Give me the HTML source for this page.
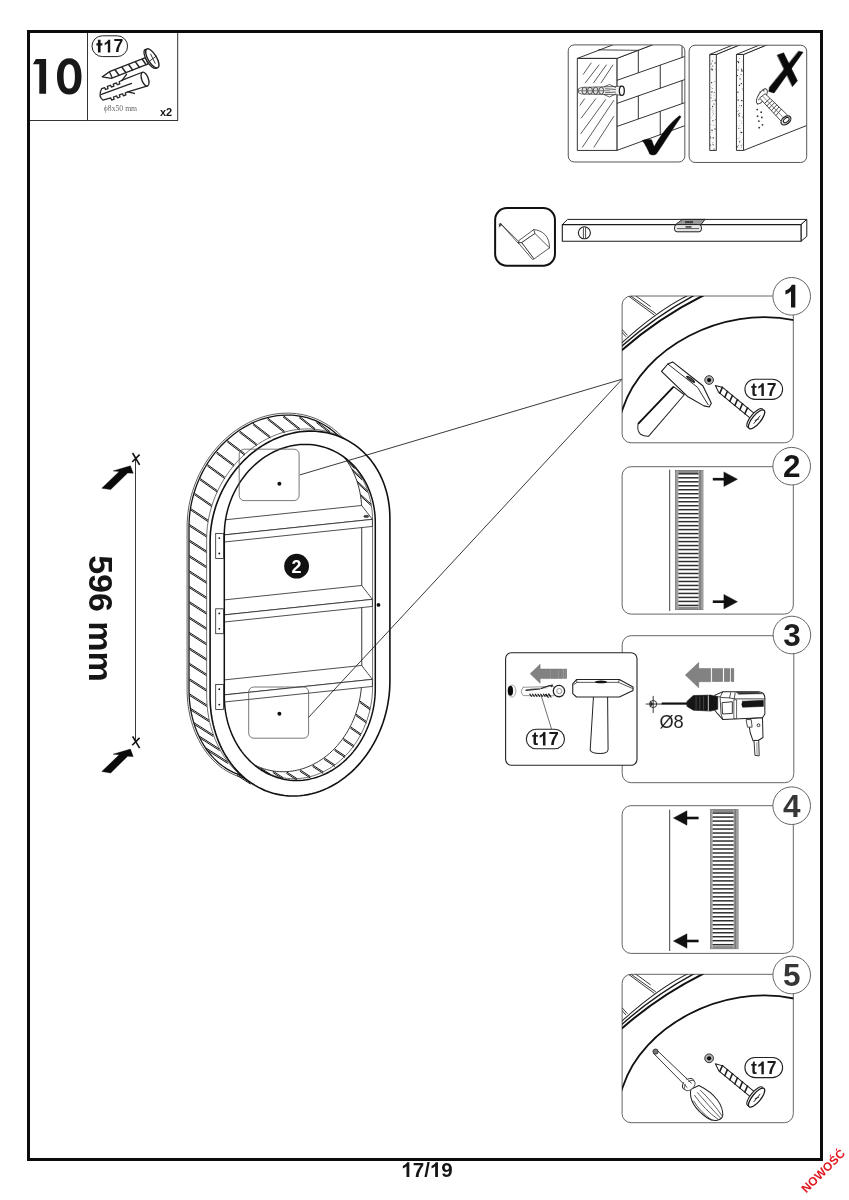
<!DOCTYPE html>
<html><head><meta charset="utf-8"><title>17/19</title>
<style>
html,body{margin:0;padding:0;background:#fff;}
body{width:849px;height:1200px;overflow:hidden;font-family:"Liberation Sans", sans-serif;}
svg{display:block;font-family:"Liberation Sans", sans-serif;will-change:transform;}
</style></head>
<body>
<svg width="849" height="1200" viewBox="0 0 849 1200">
<rect x="0" y="0" width="849" height="1200" fill="#fff"/>
<rect x="28.5" y="31.5" width="793" height="1128" fill="none" stroke="#0c0c0c" stroke-width="3"/>
<path d="M806 0H525V1059Q371 915 162 846V1101Q272 1137 401 1237.5Q530 1338 578 1472H806Z" fill="#161616" transform="translate(401.22 1177) scale(0.01006 -0.01006)"/><text x="412.68" y="1177" font-size="20.6" font-weight="bold" fill="#161616">7</text><text x="424.14" y="1177" font-size="20.6" font-weight="bold" fill="#161616">/</text><path d="M806 0H525V1059Q371 915 162 846V1101Q272 1137 401 1237.5Q530 1338 578 1472H806Z" fill="#161616" transform="translate(429.86 1177) scale(0.01006 -0.01006)"/><text x="441.32" y="1177" font-size="20.6" font-weight="bold" fill="#161616">9</text>
<text transform="translate(806.3 1193.6) rotate(-45)" font-size="11.9" font-weight="bold" fill="#e3171f" letter-spacing="0.2">NOWOŚĆ</text>
<line x1="30" y1="120.5" x2="178" y2="120.5" stroke="#333" stroke-width="1" />
<line x1="87.5" y1="33" x2="87.5" y2="120.5" stroke="#333" stroke-width="1" />
<line x1="177.7" y1="33" x2="177.7" y2="120.5" stroke="#333" stroke-width="1" />
<path d="M35.9 59 H46.1 V93.7 H39.3 V64.3 H32.9 Z" fill="#181818"/>
<path fill-rule="evenodd" fill="#181818" d="M69.3 58.2 C77.6 58.2 81.5 66 81.5 76.4 C81.5 86.8 77.6 94.6 69.3 94.6 C61 94.6 57 86.8 57 76.4 C57 66 61 58.2 69.3 58.2 Z M69.3 64.3 C65 64.3 63.6 69.5 63.6 76.4 C63.6 83.3 65 88.6 69.3 88.6 C73.6 88.6 74.9 83.3 74.9 76.4 C74.9 69.5 73.6 64.3 69.3 64.3 Z"/>
<rect x="92" y="35.8" width="35.6" height="20.8" rx="10.4" ry="10.4" fill="#fff" stroke="#222" stroke-width="1"/>
<path d="M97.9 39.8 H100.6 V43.3 H102.4 V45.5 H100.6 V52.4 H97.9 V45.5 H96.4 V43.3 H97.9 Z" fill="#151515"/>
<path d="M806 0H525V1059Q371 915 162 846V1101Q272 1137 401 1237.5Q530 1338 578 1472H806Z" fill="#151515" transform="translate(103.3 52.4) scale(0.00859 -0.00859)"/><text x="113.49" y="52.4" font-size="17.6" font-weight="bold" fill="#151515">7</text>
<text x="160" y="115.6" font-size="11" font-weight="bold" fill="#151515" text-anchor="start" >x2</text>
<text x="103.8" y="111" font-size="7.7" font-weight="normal" fill="#666" text-anchor="start" font-family="Liberation Serif, serif">ϕ8x50 mm</text>
<g transform="translate(84 28) scale(0.11779)"><polygon points="155,415 222,368 522,252 545,305 232,428" fill="#fff" stroke="#222" stroke-width="10.61" stroke-linejoin="round" /><line x1="262" y1="352" x2="300" y2="404" stroke="#222" stroke-width="12.73" /><line x1="319.66" y1="329.68" x2="357.66" y2="381.68" stroke="#222" stroke-width="12.73" /><line x1="377.32" y1="307.36" x2="415.32" y2="359.36" stroke="#222" stroke-width="12.73" /><line x1="434.98" y1="285.04" x2="472.98" y2="337.04" stroke="#222" stroke-width="12.73" /><line x1="492.64" y1="262.72" x2="530.64" y2="314.72" stroke="#222" stroke-width="12.73" /><line x1="216" y1="372" x2="240" y2="424" stroke="#222" stroke-width="11.04" /><ellipse cx="566" cy="262" rx="36" ry="92" transform="rotate(-31 566 262)" fill="#fff" stroke="#222" stroke-width="11.04"/><ellipse cx="580" cy="258" rx="36" ry="92" transform="rotate(-31 580 258)" fill="#fff" stroke="#222" stroke-width="11.89"/><path d="M566 222 L604 300 M560 278 L612 240" fill="none" stroke="#222" stroke-width="7.64" stroke-linejoin="round" stroke-linecap="round" /><path d="M150 514 L176 506 L182 522 L204 514 L198 496 L226 486 L232 502 L254 494 L248 476 L276 466 L282 482 L304 474 L298 456 L330 440 L490 378 L540 492 L372 542 L350 550 L356 568 L334 576 L328 558 L300 568 L306 586 L284 594 L278 576 L250 586 L256 604 L234 612 L228 594 L160 612 Q118 582 150 514 Z" fill="#fff" stroke="#222" stroke-width="10.61" stroke-linejoin="round" stroke-linecap="round" /><path d="M148 564 L404 470" fill="none" stroke="#222" stroke-width="10.19" stroke-linejoin="round" stroke-linecap="round" /><path d="M322 446 L362 392 M372 542 L428 556" fill="none" stroke="#222" stroke-width="11.04" stroke-linejoin="round" stroke-linecap="round" /><ellipse cx="518" cy="434" rx="28" ry="62" transform="rotate(-20 518 434)" fill="#fff" stroke="#222" stroke-width="11.46"/></g>
<g transform="translate(560 35) scale(0.16490)"><clipPath id="cpw1"><rect x="50" y="60" width="707" height="710" rx="36"/></clipPath><rect x="50" y="60" width="707" height="710" rx="36" fill="#fff" stroke="none"/><g clip-path="url(#cpw1)"><polygon points="345,142 900,-70 900,498 345,700" fill="#fff" stroke="#1c1c1c" stroke-width="5.46" stroke-linejoin="round" /><polygon points="105,142 345,142 900,-70 660,-70" fill="#fff" stroke="#1c1c1c" stroke-width="5.46" stroke-linejoin="round" /><line x1="232" y1="90" x2="475" y2="93" stroke="#1c1c1c" stroke-width="4.85" /><line x1="345" y1="275" x2="900" y2="80" stroke="#1c1c1c" stroke-width="5.46" /><line x1="345" y1="415" x2="900" y2="220" stroke="#1c1c1c" stroke-width="5.46" /><line x1="345" y1="555" x2="900" y2="360" stroke="#1c1c1c" stroke-width="5.46" /><line x1="475" y1="96.32" x2="475" y2="229.32" stroke="#1c1c1c" stroke-width="5.46" /><line x1="608" y1="182.58" x2="608" y2="322.58" stroke="#1c1c1c" stroke-width="5.46" /><line x1="475" y1="369.32" x2="475" y2="509.32" stroke="#1c1c1c" stroke-width="5.46" /><line x1="608" y1="462.58" x2="608" y2="607.58" stroke="#1c1c1c" stroke-width="5.46" /><line x1="740" y1="3.2" x2="740" y2="136.2" stroke="#1c1c1c" stroke-width="5.46" /><line x1="740" y1="276.2" x2="740" y2="416.2" stroke="#1c1c1c" stroke-width="5.46" /><polygon points="105,142 345,142 345,700 105,700" fill="#fff" stroke="#1c1c1c" stroke-width="5.46" stroke-linejoin="round" /><line x1="140" y1="240" x2="190" y2="168" stroke="#333" stroke-width="4.85" /><line x1="152" y1="292" x2="238" y2="180" stroke="#333" stroke-width="4.85" /><line x1="202" y1="292" x2="282" y2="180" stroke="#333" stroke-width="4.85" /><line x1="248" y1="292" x2="322" y2="180" stroke="#333" stroke-width="4.85" /><line x1="120" y1="428" x2="150" y2="385" stroke="#333" stroke-width="4.85" /><line x1="128" y1="505" x2="218" y2="385" stroke="#333" stroke-width="4.85" /><line x1="125" y1="600" x2="278" y2="390" stroke="#333" stroke-width="4.85" /><line x1="135" y1="682" x2="327" y2="395" stroke="#333" stroke-width="4.85" /><line x1="205" y1="682" x2="327" y2="492" stroke="#333" stroke-width="4.85" /><polygon points="112,326 130,318 345,312 372,310 372,366 345,362 130,358 112,350" fill="#f2f2f2" stroke="#444" stroke-width="4.85" stroke-linejoin="round" /><ellipse cx="148" cy="338" rx="15" ry="21" fill="#e2e2e2" stroke="#3a3a3a" stroke-width="5.46"/><ellipse cx="182" cy="338" rx="15" ry="21" fill="#e2e2e2" stroke="#3a3a3a" stroke-width="5.46"/><ellipse cx="216" cy="338" rx="15" ry="21" fill="#e2e2e2" stroke="#3a3a3a" stroke-width="5.46"/><ellipse cx="250" cy="338" rx="15" ry="21" fill="#e2e2e2" stroke="#3a3a3a" stroke-width="5.46"/><path d="M112 338 L300 338" fill="none" stroke="#555" stroke-width="4.24" stroke-linejoin="round" stroke-linecap="round" /><path d="M268 314 L300 300 L338 318 M268 362 L300 376 L338 358 M276 326 L336 330 M276 350 L336 346" fill="none" stroke="#3a3a3a" stroke-width="4.85" stroke-linejoin="round" stroke-linecap="round" /><ellipse cx="375" cy="338" rx="15" ry="28" fill="#fff" stroke="#1c1c1c" stroke-width="7.88"/><path d="M500 640 C520 632 540 628 556 636 C562 652 566 668 572 676 C612 606 660 540 724 490 L734 496 C690 560 640 640 584 722 C570 730 556 728 544 722 C534 696 520 668 500 640 Z" fill="#0a0a0a" stroke="#0a0a0a" stroke-width="3.03" stroke-linejoin="round" stroke-linecap="round" /></g><rect x="50" y="60" width="707" height="710" rx="36" fill="none" stroke="#555" stroke-width="6.06"/></g>
<g transform="translate(685 35) scale(0.16490)"><clipPath id="cpw2"><rect x="25" y="62" width="713" height="711" rx="36"/></clipPath><rect x="25" y="62" width="713" height="711" rx="36" fill="#fff" stroke="none"/><g clip-path="url(#cpw2)"><polygon points="190,118 590,-46 1090,-46 1090,345 190,700" fill="#fff" stroke="none" stroke-width="0" stroke-linejoin="round" /><polyline points="190,118 590,-46" fill="none" stroke="#1c1c1c" stroke-width="5.46" stroke-linejoin="round" /><polygon points="150,118 190,118 590,-46 550,-46" fill="#fff" stroke="#1c1c1c" stroke-width="5.46" stroke-linejoin="round" /><polygon points="150,118 190,118 190,700 150,700" fill="#fbfbfb" stroke="#1c1c1c" stroke-width="5.46" stroke-linejoin="round" /><circle cx="164.71" cy="210.98" r="4.2" fill="#222"/><circle cx="156.45" cy="593.13" r="1.4" fill="#222"/><circle cx="165.97" cy="158.06" r="3.4" fill="#222"/><circle cx="161.44" cy="173.99" r="2.8" fill="#222"/><circle cx="157.1" cy="176.71" r="2.8" fill="#222"/><circle cx="156.77" cy="447.31" r="1.8" fill="#222"/><circle cx="173.92" cy="457.31" r="1.4" fill="#222"/><circle cx="172.31" cy="351.11" r="1.8" fill="#222"/><circle cx="156.4" cy="614.33" r="2.2" fill="#222"/><circle cx="167.57" cy="433.19" r="3.4" fill="#222"/><circle cx="164.25" cy="590.19" r="1.8" fill="#222"/><circle cx="158.09" cy="450.59" r="1.8" fill="#222"/><circle cx="166.17" cy="437.21" r="1.4" fill="#222"/><circle cx="171.93" cy="477.84" r="2.8" fill="#222"/><circle cx="175.41" cy="368.73" r="2.2" fill="#222"/><circle cx="168.97" cy="651.36" r="2.2" fill="#222"/><circle cx="163.99" cy="577.8" r="4.2" fill="#222"/><circle cx="178.39" cy="171.66" r="2.2" fill="#222"/><circle cx="170.76" cy="623.83" r="4.2" fill="#222"/><circle cx="168.47" cy="472.11" r="1.4" fill="#222"/><circle cx="158.54" cy="363.33" r="2.2" fill="#222"/><circle cx="159.56" cy="403.71" r="1.4" fill="#222"/><circle cx="183.86" cy="169.24" r="3.4" fill="#222"/><circle cx="172.19" cy="624.02" r="2.2" fill="#222"/><circle cx="165.2" cy="324.6" r="2.8" fill="#222"/><circle cx="172.4" cy="385.04" r="1.4" fill="#222"/><circle cx="183.34" cy="395.24" r="4.2" fill="#222"/><circle cx="156.95" cy="541.76" r="2.2" fill="#222"/><circle cx="174.41" cy="691.06" r="2.8" fill="#222"/><circle cx="163.54" cy="344.9" r="4.2" fill="#222"/><circle cx="165.41" cy="661.17" r="2.2" fill="#222"/><circle cx="160.04" cy="191.74" r="1.4" fill="#222"/><circle cx="161.55" cy="288.84" r="4.2" fill="#222"/><circle cx="162.43" cy="347.84" r="2.8" fill="#222"/><circle cx="157.42" cy="381.04" r="3.4" fill="#222"/><circle cx="163.34" cy="203.05" r="2.8" fill="#222"/><circle cx="180.92" cy="283.7" r="2.8" fill="#222"/><circle cx="184.59" cy="514.15" r="2.8" fill="#222"/><circle cx="183.73" cy="211.02" r="1.8" fill="#222"/><circle cx="159.54" cy="500.35" r="1.4" fill="#222"/><circle cx="169.55" cy="460.8" r="2.2" fill="#222"/><circle cx="163.46" cy="208.04" r="3.4" fill="#222"/><circle cx="166.08" cy="447.81" r="1.8" fill="#222"/><circle cx="175.71" cy="418.83" r="3.4" fill="#222"/><circle cx="174.65" cy="546.68" r="2.8" fill="#222"/><circle cx="181.99" cy="569.58" r="4.2" fill="#222"/><circle cx="178.94" cy="348.66" r="2.8" fill="#222"/><circle cx="166.82" cy="399.47" r="2.8" fill="#222"/><circle cx="156.87" cy="163.39" r="1.8" fill="#222"/><circle cx="168.22" cy="187.66" r="3.4" fill="#222"/><circle cx="156.58" cy="125.13" r="1.8" fill="#222"/><circle cx="171.1" cy="665.9" r="3.4" fill="#222"/><circle cx="155.77" cy="623.37" r="3.4" fill="#222"/><circle cx="166.29" cy="486.61" r="2.2" fill="#222"/><circle cx="173.07" cy="395.27" r="1.4" fill="#222"/><circle cx="180.47" cy="691.07" r="2.8" fill="#222"/><circle cx="169.41" cy="302.76" r="1.8" fill="#222"/><circle cx="158.07" cy="320.3" r="2.2" fill="#222"/><circle cx="169.36" cy="519.47" r="3.4" fill="#222"/><circle cx="155.69" cy="667.06" r="3.4" fill="#222"/><polygon points="355,118 755,-46 1255,-46 1255,345 355,700" fill="#fff" stroke="none" stroke-width="0" stroke-linejoin="round" /><polyline points="355,118 755,-46" fill="none" stroke="#1c1c1c" stroke-width="5.46" stroke-linejoin="round" /><polyline points="355,700 1255,345" fill="none" stroke="#1c1c1c" stroke-width="5.46" stroke-linejoin="round" /><polygon points="312,118 355,118 755,-46 712,-46" fill="#fff" stroke="#1c1c1c" stroke-width="5.46" stroke-linejoin="round" /><polygon points="312,118 355,118 355,700 312,700" fill="#fbfbfb" stroke="#1c1c1c" stroke-width="5.46" stroke-linejoin="round" /><circle cx="328.94" cy="518.34" r="1.4" fill="#222"/><circle cx="342.02" cy="294.91" r="4.2" fill="#222"/><circle cx="345.49" cy="521.83" r="2.2" fill="#222"/><circle cx="334.11" cy="642.71" r="2.2" fill="#222"/><circle cx="342.47" cy="428.58" r="3.4" fill="#222"/><circle cx="327.88" cy="252.13" r="1.8" fill="#222"/><circle cx="343.6" cy="591.45" r="4.2" fill="#222"/><circle cx="343.51" cy="238.95" r="2.8" fill="#222"/><circle cx="328.73" cy="141.52" r="1.4" fill="#222"/><circle cx="343.07" cy="394.18" r="1.8" fill="#222"/><circle cx="339.85" cy="670.21" r="2.8" fill="#222"/><circle cx="343.68" cy="537.18" r="2.2" fill="#222"/><circle cx="348.52" cy="332.84" r="1.8" fill="#222"/><circle cx="320.37" cy="392.95" r="2.2" fill="#222"/><circle cx="323.74" cy="480.72" r="3.4" fill="#222"/><circle cx="344.73" cy="398.3" r="4.2" fill="#222"/><circle cx="328.35" cy="491.59" r="4.2" fill="#222"/><circle cx="320.96" cy="346.47" r="4.2" fill="#222"/><circle cx="341.75" cy="397.48" r="1.8" fill="#222"/><circle cx="331.32" cy="487.43" r="1.4" fill="#222"/><circle cx="343.43" cy="678.84" r="2.8" fill="#222"/><circle cx="332.28" cy="548.71" r="1.4" fill="#222"/><circle cx="340.92" cy="221.9" r="1.8" fill="#222"/><circle cx="317.91" cy="461.76" r="2.8" fill="#222"/><circle cx="343.61" cy="208.32" r="3.4" fill="#222"/><circle cx="349.35" cy="499.64" r="2.2" fill="#222"/><circle cx="322.15" cy="437.52" r="1.4" fill="#222"/><circle cx="317.47" cy="678.41" r="4.2" fill="#222"/><circle cx="320.39" cy="552.21" r="1.8" fill="#222"/><circle cx="331.32" cy="621.89" r="1.8" fill="#222"/><circle cx="317.92" cy="246.28" r="3.4" fill="#222"/><circle cx="324.94" cy="459.27" r="2.2" fill="#222"/><circle cx="334.96" cy="600.49" r="1.4" fill="#222"/><circle cx="347.03" cy="326.66" r="2.8" fill="#222"/><circle cx="338.86" cy="589.58" r="3.4" fill="#222"/><circle cx="330.88" cy="648.1" r="3.4" fill="#222"/><circle cx="321.32" cy="211.55" r="3.4" fill="#222"/><circle cx="317.62" cy="375.87" r="1.8" fill="#222"/><circle cx="337.08" cy="567.34" r="1.8" fill="#222"/><circle cx="322.69" cy="394.89" r="4.2" fill="#222"/><circle cx="320.97" cy="160.2" r="4.2" fill="#222"/><circle cx="334.11" cy="441.6" r="1.4" fill="#222"/><circle cx="346.15" cy="157.39" r="1.8" fill="#222"/><circle cx="326.14" cy="565.19" r="3.4" fill="#222"/><circle cx="331.92" cy="140.88" r="1.4" fill="#222"/><circle cx="331.63" cy="474.14" r="3.4" fill="#222"/><circle cx="337" cy="238.66" r="2.2" fill="#222"/><circle cx="331.93" cy="428.97" r="2.8" fill="#222"/><circle cx="333.76" cy="266.16" r="3.4" fill="#222"/><circle cx="345.93" cy="662.04" r="2.2" fill="#222"/><circle cx="347.45" cy="633.87" r="1.8" fill="#222"/><circle cx="344.72" cy="203.17" r="1.4" fill="#222"/><circle cx="329.95" cy="305.11" r="4.2" fill="#222"/><circle cx="324.94" cy="166.68" r="4.2" fill="#222"/><circle cx="326.99" cy="194.74" r="1.8" fill="#222"/><circle cx="348" cy="491.77" r="2.2" fill="#222"/><circle cx="321.72" cy="628.21" r="2.8" fill="#222"/><circle cx="324.25" cy="667.93" r="2.8" fill="#222"/><circle cx="346.2" cy="217.79" r="4.2" fill="#222"/><circle cx="344.47" cy="217.04" r="2.8" fill="#222"/><ellipse cx="466" cy="372" rx="22" ry="52" transform="rotate(32 466 372)" fill="#fff" stroke="#333" stroke-width="5.46"/><circle cx="455" cy="345" r="4" fill="#333"/><circle cx="478" cy="338" r="4" fill="#333"/><circle cx="488" cy="362" r="4" fill="#333"/><circle cx="448" cy="392" r="4" fill="#333"/><circle cx="440" cy="418" r="4" fill="#333"/><polygon points="452,382 486,356 622,486 590,530" fill="#fff" stroke="#333" stroke-width="5.46" stroke-linejoin="round" /><line x1="482.36" y1="414.56" x2="515.92" y2="384.6" stroke="#333" stroke-width="5.46" /><line x1="496.16" y1="429.36" x2="529.52" y2="397.6" stroke="#333" stroke-width="5.46" /><line x1="509.96" y1="444.16" x2="543.12" y2="410.6" stroke="#333" stroke-width="5.46" /><line x1="523.76" y1="458.96" x2="556.72" y2="423.6" stroke="#333" stroke-width="5.46" /><line x1="537.56" y1="473.76" x2="570.32" y2="436.6" stroke="#333" stroke-width="5.46" /><line x1="551.36" y1="488.56" x2="583.92" y2="449.6" stroke="#333" stroke-width="5.46" /><line x1="470" y1="370" x2="600" y2="505" stroke="#555" stroke-width="4.24" /><ellipse cx="612" cy="518" rx="34" ry="22" transform="rotate(-38 612 518)" fill="#ddd" stroke="#222" stroke-width="7.28"/><ellipse cx="614" cy="516" rx="20" ry="12" transform="rotate(-38 614 516)" fill="#fff" stroke="#222" stroke-width="6.06"/><circle cx="438" cy="452" r="5.5" fill="#333"/><circle cx="462" cy="468" r="5.5" fill="#333"/><circle cx="440" cy="492" r="5.5" fill="#333"/><circle cx="466" cy="500" r="5.5" fill="#333"/><circle cx="448" cy="522" r="5.5" fill="#333"/><circle cx="470" cy="545" r="5.5" fill="#333"/><circle cx="450" cy="562" r="5.5" fill="#333"/><path d="M560 122 L598 108 L682 278 L652 312 Z" fill="#0a0a0a" stroke="#0a0a0a" stroke-width="3.03" stroke-linejoin="round" stroke-linecap="round" /><path d="M690 98 L716 104 L540 352 L508 342 L512 318 Z" fill="#0a0a0a" stroke="#0a0a0a" stroke-width="3.03" stroke-linejoin="round" stroke-linecap="round" /></g><rect x="25" y="62" width="713" height="711" rx="36" fill="none" stroke="#555" stroke-width="6.06"/></g>
<g transform="translate(485 195) scale(0.23557)"><rect x="43" y="55.6" width="254" height="244.6" rx="50" fill="#fff" stroke="#111" stroke-width="8.49"/><circle cx="65" cy="126" r="5" fill="#555" stroke="#222" stroke-width="2.55"/><path d="M67 122 L144 198 M72 128 L140 204 M62 130 L60 136" fill="none" stroke="#222" stroke-width="3.18" stroke-linejoin="round" stroke-linecap="round" /><path d="M206.7 147 C245.2 148.7 275 176.7 273.9 224.3" fill="#fff" stroke="#222" stroke-width="3.18" stroke-linejoin="round" stroke-linecap="round" /><polygon points="142,203.6 143.7,193.5 206.7,147 212,163.4 156,202" fill="#fff" stroke="#222" stroke-width="3.18" stroke-linejoin="round" /><polygon points="142,203.6 156,202 208.5,271.2 201.5,273.6" fill="#fff" stroke="#222" stroke-width="3.18" stroke-linejoin="round" /><polygon points="156,202 212,163.4 273.9,224.3 208.5,271.2" fill="#fff" stroke="#222" stroke-width="3.18" stroke-linejoin="round" /><circle cx="143" cy="202" r="3.2" fill="#333"/></g>
<polygon points="562.3,224.6 567.6,219.4 806.8,219.4 801,224.6" fill="#fff" stroke="#1c1c1c" stroke-width="1" stroke-linejoin="round" /><polygon points="801,224.6 806.8,219.4 806.8,236.3 801,241.3" fill="#fff" stroke="#1c1c1c" stroke-width="1" stroke-linejoin="round" /><polygon points="562.3,224.6 801,224.6 801,241.3 562.3,241.3" fill="#fff" stroke="#1c1c1c" stroke-width="1.1" stroke-linejoin="round" /><circle cx="584.4" cy="232.8" r="6" fill="#fff" stroke="#1c1c1c" stroke-width="1.1"/><line x1="583.4" y1="227.4" x2="583.4" y2="238.2" stroke="#1c1c1c" stroke-width="0.8" /><line x1="585.6" y1="227.4" x2="585.6" y2="238.2" stroke="#1c1c1c" stroke-width="0.8" /><polygon points="682.5,219.4 705,219.4 701,224.6 675.5,224.6" fill="#9a9a9a" stroke="#1c1c1c" stroke-width="0.9" stroke-linejoin="round" /><rect x="674.6" y="224.6" width="26.8" height="7.2" rx="2.5" fill="#e9e9e9" stroke="#1c1c1c" stroke-width="1"/><line x1="677" y1="228.6" x2="699" y2="228.6" stroke="#333" stroke-width="0.8" /><rect x="685" y="221" width="8" height="2.2" fill="#444"/><rect x="685.5" y="226" width="6" height="1.8" fill="#555"/>
<polygon points="210.1,541.49 210.19,537.2 187.19,522.36 187.1,526.79" fill="#fff" stroke="#fff" stroke-width="0.6" stroke-linejoin="round" /><polygon points="210.19,537.2 210.44,532.9 187.44,517.91 187.19,522.36" fill="#fff" stroke="#fff" stroke-width="0.6" stroke-linejoin="round" /><polygon points="210.44,532.9 210.87,528.6 187.87,513.46 187.44,517.91" fill="#fff" stroke="#fff" stroke-width="0.6" stroke-linejoin="round" /><polygon points="210.87,528.6 211.47,524.29 188.47,509.02 187.87,513.46" fill="#fff" stroke="#fff" stroke-width="0.6" stroke-linejoin="round" /><polygon points="211.47,524.29 212.23,520 189.23,504.58 188.47,509.02" fill="#fff" stroke="#fff" stroke-width="0.6" stroke-linejoin="round" /><polygon points="212.23,520 213.16,515.72 190.16,500.17 189.23,504.58" fill="#fff" stroke="#fff" stroke-width="0.6" stroke-linejoin="round" /><polygon points="213.16,515.72 214.26,511.48 191.26,495.78 190.16,500.17" fill="#fff" stroke="#fff" stroke-width="0.6" stroke-linejoin="round" /><polygon points="214.26,511.48 215.52,507.26 192.52,491.44 191.26,495.78" fill="#fff" stroke="#fff" stroke-width="0.6" stroke-linejoin="round" /><polygon points="215.52,507.26 216.94,503.09 193.94,487.13 192.52,491.44" fill="#fff" stroke="#fff" stroke-width="0.6" stroke-linejoin="round" /><polygon points="216.94,503.09 218.52,498.98 195.52,482.88 193.94,487.13" fill="#fff" stroke="#fff" stroke-width="0.6" stroke-linejoin="round" /><polygon points="218.52,498.98 220.26,494.92 197.26,478.69 195.52,482.88" fill="#fff" stroke="#fff" stroke-width="0.6" stroke-linejoin="round" /><polygon points="220.26,494.92 222.14,490.92 199.14,474.57 197.26,478.69" fill="#fff" stroke="#fff" stroke-width="0.6" stroke-linejoin="round" /><polygon points="222.14,490.92 224.18,487 201.18,470.53 199.14,474.57" fill="#fff" stroke="#fff" stroke-width="0.6" stroke-linejoin="round" /><polygon points="224.18,487 226.36,483.16 203.36,466.57 201.18,470.53" fill="#fff" stroke="#fff" stroke-width="0.6" stroke-linejoin="round" /><polygon points="226.36,483.16 228.68,479.41 205.68,462.7 203.36,466.57" fill="#fff" stroke="#fff" stroke-width="0.6" stroke-linejoin="round" /><polygon points="228.68,479.41 231.13,475.76 208.13,458.94 205.68,462.7" fill="#fff" stroke="#fff" stroke-width="0.6" stroke-linejoin="round" /><polygon points="231.13,475.76 233.72,472.21 210.72,455.28 208.13,458.94" fill="#fff" stroke="#fff" stroke-width="0.6" stroke-linejoin="round" /><polygon points="233.72,472.21 236.43,468.77 213.43,451.73 210.72,455.28" fill="#fff" stroke="#fff" stroke-width="0.6" stroke-linejoin="round" /><polygon points="236.43,468.77 239.26,465.44 216.26,448.31 213.43,451.73" fill="#fff" stroke="#fff" stroke-width="0.6" stroke-linejoin="round" /><polygon points="239.26,465.44 242.21,462.24 219.21,445.01 216.26,448.31" fill="#fff" stroke="#fff" stroke-width="0.6" stroke-linejoin="round" /><polygon points="242.21,462.24 245.27,459.17 222.27,441.85 219.21,445.01" fill="#fff" stroke="#fff" stroke-width="0.6" stroke-linejoin="round" /><polygon points="245.27,459.17 248.44,456.23 225.44,438.82 222.27,441.85" fill="#fff" stroke="#fff" stroke-width="0.6" stroke-linejoin="round" /><polygon points="248.44,456.23 251.7,453.43 228.7,435.94 225.44,438.82" fill="#fff" stroke="#fff" stroke-width="0.6" stroke-linejoin="round" /><polygon points="251.7,453.43 255.05,450.77 232.05,433.22 228.7,435.94" fill="#fff" stroke="#fff" stroke-width="0.6" stroke-linejoin="round" /><polygon points="255.05,450.77 258.49,448.27 235.49,430.64 232.05,433.22" fill="#fff" stroke="#fff" stroke-width="0.6" stroke-linejoin="round" /><polygon points="258.49,448.27 262.01,445.92 239.01,428.23 235.49,430.64" fill="#fff" stroke="#fff" stroke-width="0.6" stroke-linejoin="round" /><polygon points="262.01,445.92 265.6,443.73 242.6,425.98 239.01,428.23" fill="#fff" stroke="#fff" stroke-width="0.6" stroke-linejoin="round" /><polygon points="265.6,443.73 269.25,441.71 246.25,423.91 242.6,425.98" fill="#fff" stroke="#fff" stroke-width="0.6" stroke-linejoin="round" /><polygon points="269.25,441.71 272.97,439.85 249.97,422 246.25,423.91" fill="#fff" stroke="#fff" stroke-width="0.6" stroke-linejoin="round" /><polygon points="272.97,439.85 276.73,438.16 253.73,420.28 249.97,422" fill="#fff" stroke="#fff" stroke-width="0.6" stroke-linejoin="round" /><polygon points="276.73,438.16 280.54,436.65 257.54,418.73 253.73,420.28" fill="#fff" stroke="#fff" stroke-width="0.6" stroke-linejoin="round" /><polygon points="280.54,436.65 284.39,435.32 261.39,417.37 257.54,418.73" fill="#fff" stroke="#fff" stroke-width="0.6" stroke-linejoin="round" /><polygon points="284.39,435.32 288.27,434.16 265.27,416.19 261.39,417.37" fill="#fff" stroke="#fff" stroke-width="0.6" stroke-linejoin="round" /><polygon points="288.27,434.16 292.16,433.19 269.16,415.2 265.27,416.19" fill="#fff" stroke="#fff" stroke-width="0.6" stroke-linejoin="round" /><polygon points="292.16,433.19 296.08,432.4 273.08,414.41 269.16,415.2" fill="#fff" stroke="#fff" stroke-width="0.6" stroke-linejoin="round" /><polygon points="296.08,432.4 300,431.8 277,413.8 273.08,414.41" fill="#fff" stroke="#fff" stroke-width="0.6" stroke-linejoin="round" /><polygon points="300,431.8 303.92,431.38 280.92,413.39 277,413.8" fill="#fff" stroke="#fff" stroke-width="0.6" stroke-linejoin="round" /><polygon points="303.92,431.38 307.84,431.15 284.84,413.17 280.92,413.39" fill="#fff" stroke="#fff" stroke-width="0.6" stroke-linejoin="round" /><polygon points="307.84,431.15 311.73,431.11 288.73,413.14 284.84,413.17" fill="#fff" stroke="#fff" stroke-width="0.6" stroke-linejoin="round" /><polygon points="311.73,431.11 315.61,431.26 292.61,413.31 288.73,413.14" fill="#fff" stroke="#fff" stroke-width="0.6" stroke-linejoin="round" /><polygon points="315.61,431.26 319.46,431.59 296.46,413.67 292.61,413.31" fill="#fff" stroke="#fff" stroke-width="0.6" stroke-linejoin="round" /><polygon points="319.46,431.59 323.27,432.11 300.27,414.23 296.46,413.67" fill="#fff" stroke="#fff" stroke-width="0.6" stroke-linejoin="round" /><polygon points="323.27,432.11 327.03,432.82 304.03,414.97 300.27,414.23" fill="#fff" stroke="#fff" stroke-width="0.6" stroke-linejoin="round" /><polygon points="327.03,432.82 330.75,433.71 307.75,415.91 304.03,414.97" fill="#fff" stroke="#fff" stroke-width="0.6" stroke-linejoin="round" /><polygon points="330.75,433.71 334.4,434.79 311.4,417.04 307.75,415.91" fill="#fff" stroke="#fff" stroke-width="0.6" stroke-linejoin="round" /><polygon points="334.4,434.79 337.99,436.04 314.99,418.35 311.4,417.04" fill="#fff" stroke="#fff" stroke-width="0.6" stroke-linejoin="round" /><polygon points="337.99,436.04 341.51,437.48 318.51,419.85 314.99,418.35" fill="#fff" stroke="#fff" stroke-width="0.6" stroke-linejoin="round" /><polygon points="341.51,437.48 344.95,439.09 321.95,421.53 318.51,419.85" fill="#fff" stroke="#fff" stroke-width="0.6" stroke-linejoin="round" /><polygon points="344.95,439.09 348.3,440.87 325.3,423.39 321.95,421.53" fill="#fff" stroke="#fff" stroke-width="0.6" stroke-linejoin="round" /><polygon points="348.3,440.87 351.56,442.82 328.56,425.42 325.3,423.39" fill="#fff" stroke="#fff" stroke-width="0.6" stroke-linejoin="round" /><polygon points="351.56,442.82 354.73,444.94 331.73,427.62 328.56,425.42" fill="#fff" stroke="#fff" stroke-width="0.6" stroke-linejoin="round" /><polygon points="354.73,444.94 357.79,447.22 334.79,429.99 331.73,427.62" fill="#fff" stroke="#fff" stroke-width="0.6" stroke-linejoin="round" /><polygon points="357.79,447.22 360.74,449.65 337.74,432.52 334.79,429.99" fill="#fff" stroke="#fff" stroke-width="0.6" stroke-linejoin="round" /><polygon points="360.74,449.65 363.57,452.24 340.57,435.21 337.74,432.52" fill="#fff" stroke="#fff" stroke-width="0.6" stroke-linejoin="round" /><polygon points="363.57,452.24 366.28,454.98 343.28,438.05 340.57,435.21" fill="#fff" stroke="#fff" stroke-width="0.6" stroke-linejoin="round" /><polygon points="366.28,454.98 368.87,457.85 345.87,441.03 343.28,438.05" fill="#fff" stroke="#fff" stroke-width="0.6" stroke-linejoin="round" /><polygon points="368.87,457.85 371.32,460.87 348.32,444.16 345.87,441.03" fill="#fff" stroke="#fff" stroke-width="0.6" stroke-linejoin="round" /><polygon points="371.32,460.87 373.64,464.02 350.64,447.42 348.32,444.16" fill="#fff" stroke="#fff" stroke-width="0.6" stroke-linejoin="round" /><polygon points="373.64,464.02 375.82,467.29 352.82,450.81 350.64,447.42" fill="#fff" stroke="#fff" stroke-width="0.6" stroke-linejoin="round" /><polygon points="375.82,467.29 377.86,470.68 354.86,454.33 352.82,450.81" fill="#fff" stroke="#fff" stroke-width="0.6" stroke-linejoin="round" /><polygon points="377.86,470.68 379.74,474.18 356.74,457.96 354.86,454.33" fill="#fff" stroke="#fff" stroke-width="0.6" stroke-linejoin="round" /><polygon points="379.74,474.18 381.48,477.79 358.48,461.7 356.74,457.96" fill="#fff" stroke="#fff" stroke-width="0.6" stroke-linejoin="round" /><polygon points="381.48,477.79 383.06,481.5 360.06,465.54 358.48,461.7" fill="#fff" stroke="#fff" stroke-width="0.6" stroke-linejoin="round" /><polygon points="383.06,481.5 384.48,485.3 361.48,469.47 360.06,465.54" fill="#fff" stroke="#fff" stroke-width="0.6" stroke-linejoin="round" /><polygon points="384.48,485.3 385.74,489.18 362.74,473.49 361.48,469.47" fill="#fff" stroke="#fff" stroke-width="0.6" stroke-linejoin="round" /><polygon points="385.74,489.18 386.84,493.15 363.84,477.59 362.74,473.49" fill="#fff" stroke="#fff" stroke-width="0.6" stroke-linejoin="round" /><polygon points="386.84,493.15 387.77,497.18 364.77,481.76 363.84,477.59" fill="#fff" stroke="#fff" stroke-width="0.6" stroke-linejoin="round" /><polygon points="387.77,497.18 388.53,501.27 365.53,486 364.77,481.76" fill="#fff" stroke="#fff" stroke-width="0.6" stroke-linejoin="round" /><polygon points="388.53,501.27 389.13,505.42 366.13,490.29 365.53,486" fill="#fff" stroke="#fff" stroke-width="0.6" stroke-linejoin="round" /><polygon points="389.13,505.42 389.56,509.62 366.56,494.63 366.13,490.29" fill="#fff" stroke="#fff" stroke-width="0.6" stroke-linejoin="round" /><polygon points="389.56,509.62 389.81,513.85 366.81,499.01 366.56,494.63" fill="#fff" stroke="#fff" stroke-width="0.6" stroke-linejoin="round" /><polygon points="389.81,513.85 389.9,518.11 366.9,503.41 366.81,499.01" fill="#fff" stroke="#fff" stroke-width="0.6" stroke-linejoin="round" /><polygon points="389.9,681.1 389.81,685.76 332.43,684.82 332.5,680.72" fill="#fff" stroke="#fff" stroke-width="0.6" stroke-linejoin="round" /><polygon points="389.81,685.76 389.56,690.42 332.22,688.92 332.43,684.82" fill="#fff" stroke="#fff" stroke-width="0.6" stroke-linejoin="round" /><polygon points="389.56,690.42 389.13,695.08 331.88,693.02 332.22,688.92" fill="#fff" stroke="#fff" stroke-width="0.6" stroke-linejoin="round" /><polygon points="389.13,695.08 388.53,699.73 331.4,697.1 331.88,693.02" fill="#fff" stroke="#fff" stroke-width="0.6" stroke-linejoin="round" /><polygon points="388.53,699.73 387.77,704.36 330.78,701.15 331.4,697.1" fill="#fff" stroke="#fff" stroke-width="0.6" stroke-linejoin="round" /><polygon points="387.77,704.36 386.84,708.96 330.02,705.18 330.78,701.15" fill="#fff" stroke="#fff" stroke-width="0.6" stroke-linejoin="round" /><polygon points="386.84,708.96 385.74,713.52 329.14,709.17 330.02,705.18" fill="#fff" stroke="#fff" stroke-width="0.6" stroke-linejoin="round" /><polygon points="385.74,713.52 384.48,718.04 328.12,713.11 329.14,709.17" fill="#fff" stroke="#fff" stroke-width="0.6" stroke-linejoin="round" /><polygon points="384.48,718.04 383.06,722.5 326.97,717 328.12,713.11" fill="#fff" stroke="#fff" stroke-width="0.6" stroke-linejoin="round" /><polygon points="383.06,722.5 381.48,726.9 325.69,720.83 326.97,717" fill="#fff" stroke="#fff" stroke-width="0.6" stroke-linejoin="round" /><polygon points="381.48,726.9 379.74,731.23 324.29,724.6 325.69,720.83" fill="#fff" stroke="#fff" stroke-width="0.6" stroke-linejoin="round" /><polygon points="379.74,731.23 377.86,735.47 322.76,728.28 324.29,724.6" fill="#fff" stroke="#fff" stroke-width="0.6" stroke-linejoin="round" /><polygon points="377.86,735.47 375.82,739.63 321.11,731.89 322.76,728.28" fill="#fff" stroke="#fff" stroke-width="0.6" stroke-linejoin="round" /><polygon points="375.82,739.63 373.64,743.69 319.35,735.41 321.11,731.89" fill="#fff" stroke="#fff" stroke-width="0.6" stroke-linejoin="round" /><polygon points="373.64,743.69 371.32,747.65 317.48,738.83 319.35,735.41" fill="#fff" stroke="#fff" stroke-width="0.6" stroke-linejoin="round" /><polygon points="371.32,747.65 368.87,751.49 315.49,742.15 317.48,738.83" fill="#fff" stroke="#fff" stroke-width="0.6" stroke-linejoin="round" /><polygon points="368.87,751.49 366.28,755.22 313.4,745.36 315.49,742.15" fill="#fff" stroke="#fff" stroke-width="0.6" stroke-linejoin="round" /><polygon points="366.28,755.22 363.57,758.82 311.21,748.46 313.4,745.36" fill="#fff" stroke="#fff" stroke-width="0.6" stroke-linejoin="round" /><polygon points="363.57,758.82 360.74,762.29 308.92,751.44 311.21,748.46" fill="#fff" stroke="#fff" stroke-width="0.6" stroke-linejoin="round" /><polygon points="360.74,762.29 357.79,765.62 306.53,754.29 308.92,751.44" fill="#fff" stroke="#fff" stroke-width="0.6" stroke-linejoin="round" /><polygon points="357.79,765.62 354.73,768.8 304.06,757.01 306.53,754.29" fill="#fff" stroke="#fff" stroke-width="0.6" stroke-linejoin="round" /><polygon points="354.73,768.8 351.56,771.83 301.5,759.59 304.06,757.01" fill="#fff" stroke="#fff" stroke-width="0.6" stroke-linejoin="round" /><polygon points="351.56,771.83 348.3,774.71 298.86,762.03 301.5,759.59" fill="#fff" stroke="#fff" stroke-width="0.6" stroke-linejoin="round" /><polygon points="348.3,774.71 344.95,777.42 296.15,764.33 298.86,762.03" fill="#fff" stroke="#fff" stroke-width="0.6" stroke-linejoin="round" /><polygon points="344.95,777.42 341.51,779.96 293.37,766.48 296.15,764.33" fill="#fff" stroke="#fff" stroke-width="0.6" stroke-linejoin="round" /><polygon points="341.51,779.96 337.99,782.33 290.52,768.47 293.37,766.48" fill="#fff" stroke="#fff" stroke-width="0.6" stroke-linejoin="round" /><polygon points="337.99,782.33 334.4,784.52 287.62,770.3 290.52,768.47" fill="#fff" stroke="#fff" stroke-width="0.6" stroke-linejoin="round" /><polygon points="334.4,784.52 330.75,786.53 284.66,771.97 287.62,770.3" fill="#fff" stroke="#fff" stroke-width="0.6" stroke-linejoin="round" /><polygon points="330.75,786.53 327.03,788.36 281.66,773.48 284.66,771.97" fill="#fff" stroke="#fff" stroke-width="0.6" stroke-linejoin="round" /><polygon points="327.03,788.36 323.27,790 278.62,774.82 281.66,773.48" fill="#fff" stroke="#fff" stroke-width="0.6" stroke-linejoin="round" /><polygon points="323.27,790 319.46,791.44 275.54,775.98 278.62,774.82" fill="#fff" stroke="#fff" stroke-width="0.6" stroke-linejoin="round" /><polygon points="319.46,791.44 315.61,792.69 272.42,776.98 275.54,775.98" fill="#fff" stroke="#fff" stroke-width="0.6" stroke-linejoin="round" /><polygon points="315.61,792.69 311.73,793.74 269.29,777.8 272.42,776.98" fill="#fff" stroke="#fff" stroke-width="0.6" stroke-linejoin="round" /><polygon points="311.73,793.74 307.84,794.6 266.14,778.44 269.29,777.8" fill="#fff" stroke="#fff" stroke-width="0.6" stroke-linejoin="round" /><polygon points="307.84,794.6 303.92,795.25 262.97,778.91 266.14,778.44" fill="#fff" stroke="#fff" stroke-width="0.6" stroke-linejoin="round" /><polygon points="303.92,795.25 300,795.7 259.8,779.2 262.97,778.91" fill="#fff" stroke="#fff" stroke-width="0.6" stroke-linejoin="round" /><polygon points="300,795.7 296.08,795.95 256.63,779.31 259.8,779.2" fill="#fff" stroke="#fff" stroke-width="0.6" stroke-linejoin="round" /><polygon points="296.08,795.95 292.16,795.99 253.46,779.24 256.63,779.31" fill="#fff" stroke="#fff" stroke-width="0.6" stroke-linejoin="round" /><polygon points="292.16,795.99 288.27,795.83 250.31,778.99 253.46,779.24" fill="#fff" stroke="#fff" stroke-width="0.6" stroke-linejoin="round" /><polygon points="288.27,795.83 284.39,795.47 247.18,778.57 250.31,778.99" fill="#fff" stroke="#fff" stroke-width="0.6" stroke-linejoin="round" /><polygon points="284.39,795.47 280.54,794.9 244.06,777.97 247.18,778.57" fill="#fff" stroke="#fff" stroke-width="0.6" stroke-linejoin="round" /><polygon points="280.54,794.9 276.73,794.14 240.98,777.19 244.06,777.97" fill="#fff" stroke="#fff" stroke-width="0.6" stroke-linejoin="round" /><polygon points="276.73,794.14 272.97,793.17 237.94,776.23 240.98,777.19" fill="#fff" stroke="#fff" stroke-width="0.6" stroke-linejoin="round" /><polygon points="272.97,793.17 269.25,792.01 234.94,775.1 237.94,776.23" fill="#fff" stroke="#fff" stroke-width="0.6" stroke-linejoin="round" /><polygon points="269.25,792.01 265.6,790.65 231.98,773.81 234.94,775.1" fill="#fff" stroke="#fff" stroke-width="0.6" stroke-linejoin="round" /><polygon points="265.6,790.65 262.01,789.09 229.08,772.34 231.98,773.81" fill="#fff" stroke="#fff" stroke-width="0.6" stroke-linejoin="round" /><polygon points="262.01,789.09 258.49,787.35 226.23,770.71 229.08,772.34" fill="#fff" stroke="#fff" stroke-width="0.6" stroke-linejoin="round" /><polygon points="258.49,787.35 255.05,785.42 223.45,768.91 226.23,770.71" fill="#fff" stroke="#fff" stroke-width="0.6" stroke-linejoin="round" /><polygon points="255.05,785.42 251.7,783.3 220.74,766.96 223.45,768.91" fill="#fff" stroke="#fff" stroke-width="0.6" stroke-linejoin="round" /><polygon points="251.7,783.3 248.44,781.01 218.1,764.85 220.74,766.96" fill="#fff" stroke="#fff" stroke-width="0.6" stroke-linejoin="round" /><polygon points="248.44,781.01 245.27,778.54 215.54,762.58 218.1,764.85" fill="#fff" stroke="#fff" stroke-width="0.6" stroke-linejoin="round" /><polygon points="245.27,778.54 242.21,775.9 213.07,760.18 215.54,762.58" fill="#fff" stroke="#fff" stroke-width="0.6" stroke-linejoin="round" /><polygon points="242.21,775.9 239.26,773.1 210.68,757.62 213.07,760.18" fill="#fff" stroke="#fff" stroke-width="0.6" stroke-linejoin="round" /><polygon points="239.26,773.1 236.43,770.14 208.39,754.94 210.68,757.62" fill="#fff" stroke="#fff" stroke-width="0.6" stroke-linejoin="round" /><polygon points="236.43,770.14 233.72,767.02 206.2,752.11 208.39,754.94" fill="#fff" stroke="#fff" stroke-width="0.6" stroke-linejoin="round" /><polygon points="233.72,767.02 231.13,763.75 204.11,749.17 206.2,752.11" fill="#fff" stroke="#fff" stroke-width="0.6" stroke-linejoin="round" /><polygon points="231.13,763.75 228.68,760.34 202.12,746.1 204.11,749.17" fill="#fff" stroke="#fff" stroke-width="0.6" stroke-linejoin="round" /><polygon points="228.68,760.34 226.36,756.8 200.25,742.91 202.12,746.1" fill="#fff" stroke="#fff" stroke-width="0.6" stroke-linejoin="round" /><polygon points="226.36,756.8 224.18,753.12 198.49,739.62 200.25,742.91" fill="#fff" stroke="#fff" stroke-width="0.6" stroke-linejoin="round" /><polygon points="224.18,753.12 222.14,749.33 196.84,736.22 198.49,739.62" fill="#fff" stroke="#fff" stroke-width="0.6" stroke-linejoin="round" /><polygon points="222.14,749.33 220.26,745.42 195.31,732.72 196.84,736.22" fill="#fff" stroke="#fff" stroke-width="0.6" stroke-linejoin="round" /><polygon points="220.26,745.42 218.52,741.4 193.91,729.13 195.31,732.72" fill="#fff" stroke="#fff" stroke-width="0.6" stroke-linejoin="round" /><polygon points="218.52,741.4 216.94,737.29 192.63,725.47 193.91,729.13" fill="#fff" stroke="#fff" stroke-width="0.6" stroke-linejoin="round" /><polygon points="216.94,737.29 215.52,733.08 191.48,721.72 192.63,725.47" fill="#fff" stroke="#fff" stroke-width="0.6" stroke-linejoin="round" /><polygon points="215.52,733.08 214.26,728.79 190.46,717.9 191.48,721.72" fill="#fff" stroke="#fff" stroke-width="0.6" stroke-linejoin="round" /><polygon points="214.26,728.79 213.16,724.42 189.58,714.03 190.46,717.9" fill="#fff" stroke="#fff" stroke-width="0.6" stroke-linejoin="round" /><polygon points="213.16,724.42 212.23,719.98 188.82,710.1 189.58,714.03" fill="#fff" stroke="#fff" stroke-width="0.6" stroke-linejoin="round" /><polygon points="212.23,719.98 211.47,715.49 188.2,706.12 188.82,710.1" fill="#fff" stroke="#fff" stroke-width="0.6" stroke-linejoin="round" /><polygon points="211.47,715.49 210.87,710.95 187.72,702.1 188.2,706.12" fill="#fff" stroke="#fff" stroke-width="0.6" stroke-linejoin="round" /><polygon points="210.87,710.95 210.44,706.36 187.38,698.05 187.72,702.1" fill="#fff" stroke="#fff" stroke-width="0.6" stroke-linejoin="round" /><polygon points="210.44,706.36 210.19,701.74 187.17,693.97 187.38,698.05" fill="#fff" stroke="#fff" stroke-width="0.6" stroke-linejoin="round" /><polygon points="210.19,701.74 210.1,697.1 187.1,689.88 187.17,693.97" fill="#fff" stroke="#fff" stroke-width="0.6" stroke-linejoin="round" /><polygon points="210.1,697.1 210.1,541.49 187.1,526.79 187.1,689.88" fill="#fff" stroke="#fff" stroke-width="0.6" stroke-linejoin="round" /><path d="M345.87 441.03 L343.28 438.05 L340.57 435.21 L337.74 432.52 L334.79 429.99 L331.73 427.62 L328.56 425.42 L325.3 423.39 L321.95 421.53 L318.51 419.85 L314.99 418.35 L311.4 417.04 L307.75 415.91 L304.03 414.97 L300.27 414.23 L296.46 413.67 L292.61 413.31 L288.73 413.14 L284.84 413.17 L280.92 413.39 L277 413.8 L273.08 414.41 L269.16 415.2 L265.27 416.19 L261.39 417.37 L257.54 418.73 L253.73 420.28 L249.97 422 L246.25 423.91 L242.6 425.98 L239.01 428.23 L235.49 430.64 L232.05 433.22 L228.7 435.94 L225.44 438.82 L222.27 441.85 L219.21 445.01 L216.26 448.31 L213.43 451.73 L210.72 455.28 L208.13 458.94 L205.68 462.7 L203.36 466.57 L201.18 470.53 L199.14 474.57 L197.26 478.69 L195.52 482.88 L193.94 487.13 L192.52 491.44 L191.26 495.78 L190.16 500.17 L189.23 504.58 L188.47 509.02 L187.87 513.46 L187.44 517.91 L187.19 522.36 L187.1 526.79 L187.1 689.88 L187.17 693.97 L187.38 698.05 L187.72 702.1 L188.2 706.12 L188.82 710.1 L189.58 714.03 L190.46 717.9 L191.48 721.72 L192.63 725.47 L193.91 729.13 L195.31 732.72 L196.84 736.22 L198.49 739.62 L200.25 742.91 L202.12 746.1 L204.11 749.17 L206.2 752.11 L208.39 754.94 L210.68 757.62 L213.07 760.18 L215.54 762.58 L218.1 764.85 L220.74 766.96 L223.45 768.91 L226.23 770.71 L229.08 772.34 L231.98 773.81 L234.94 775.1 L237.94 776.23 L240.98 777.19 L244.06 777.97 L247.18 778.57" fill="none" stroke="#333" stroke-width="0.8" stroke-linejoin="round" stroke-linecap="round" /><path d="M339.23 436.55 L336.46 433.93 L333.59 431.46 L330.6 429.15 L327.52 427 L324.34 425.02 L321.07 423.21 L317.72 421.58 L314.29 420.12 L310.8 418.84 L307.24 417.74 L303.62 416.83 L299.95 416.1 L296.23 415.56 L292.48 415.21 L288.7 415.04 L284.89 415.07 L281.07 415.28 L277.24 415.68 L273.41 416.28 L269.59 417.06 L265.78 418.02 L261.98 419.17 L258.22 420.51 L254.49 422.02 L250.8 423.71 L247.16 425.58 L243.57 427.62 L240.05 429.82 L236.6 432.19 L233.22 434.71 L229.93 437.39 L226.72 440.22 L223.61 443.2 L220.6 446.31 L217.7 449.55 L214.92 452.92 L212.25 456.4 L209.7 460.01 L207.29 463.71 L205.01 467.52 L202.86 471.41 L200.86 475.39 L199 479.45 L197.29 483.58 L195.74 487.76 L194.34 492 L193.1 496.28 L192.01 500.6 L191.1 504.94 L190.34 509.31 L189.76 513.68 L189.34 518.06 L189.08 522.43 L189 526.79 L189 689.88 L189.07 693.91 L189.27 697.92 L189.61 701.9 L190.09 705.86 L190.7 709.77 L191.44 713.64 L192.31 717.45 L193.31 721.2 L194.44 724.87 L195.69 728.48 L197.07 731.99 L198.57 735.42 L200.18 738.75 L201.9 741.98 L203.74 745.1 L205.68 748.1 L207.73 750.98 L209.87 753.74 L212.1 756.36 L214.43 758.85 L216.84 761.19 L219.32 763.39 L221.89 765.44 L224.52 767.34 L227.22 769.08 L229.98 770.67 L232.79 772.09 L235.65 773.34 L238.56 774.43 L241.5 775.36 L244.48 776.11" fill="none" stroke="#141414" stroke-width="1.3" stroke-linejoin="round" stroke-linecap="round" /><path d="M351.28 442.74 L348.11 440.62 L344.85 438.67 L341.5 436.89 L338.06 435.28 L334.54 433.84 L330.95 432.59 L327.3 431.51 L323.58 430.62 L319.82 429.91 L316.01 429.39 L312.16 429.06 L308.28 428.91 L304.39 428.95 L300.47 429.18 L296.55 429.6 L292.63 430.2 L288.71 430.99 L284.82 431.96 L280.94 433.12 L277.09 434.45 L273.28 435.96 L269.52 437.65 L265.8 439.51 L262.15 441.53 L258.56 443.72 L255.04 446.07 L251.6 448.57 L248.25 451.23 L244.99 454.03 L241.82 456.97 L238.76 460.04 L235.81 463.24 L232.98 466.57 L230.27 470.01 L227.68 473.56 L225.23 477.21 L222.91 480.96 L220.73 484.8 L218.69 488.72 L216.81 492.72 L215.07 496.78 L213.49 500.89 L212.07 505.06 L210.81 509.28 L209.71 513.52 L208.78 517.8 L208.02 522.09 L207.42 526.4 L206.99 530.7 L206.74 535 L206.65 539.29 L206.65 694.9 L206.74 699.54 L206.99 704.16 L207.42 708.75 L208.02 713.29 L208.78 717.78 L209.71 722.22 L210.81 726.59 L212.07 730.88 L213.49 735.09 L215.07 739.2 L216.81 743.22 L218.69 747.13 L220.73 750.92 L222.91 754.6 L225.23 758.14 L227.68 761.55 L230.27 764.82 L232.98 767.94 L235.81 770.9 L238.76 773.7 L241.82 776.34 L244.99 778.81 L248.25 781.1 L251.6 783.22" fill="none" stroke="#333" stroke-width="0.7" stroke-linejoin="round" stroke-linecap="round" /><line x1="206.49" y1="535.51" x2="189.37" y2="524.48" stroke="#151515" stroke-width="1" /><line x1="206.49" y1="537.01" x2="189.37" y2="525.98" stroke="#151515" stroke-width="1" /><line x1="208.09" y1="520.12" x2="190.82" y2="508.61" stroke="#151515" stroke-width="1" /><line x1="208.09" y1="521.62" x2="190.82" y2="510.11" stroke="#151515" stroke-width="1" /><line x1="211.74" y1="505.09" x2="194.38" y2="493.16" stroke="#151515" stroke-width="1" /><line x1="211.74" y1="506.59" x2="194.38" y2="494.66" stroke="#151515" stroke-width="1" /><line x1="217.35" y1="490.68" x2="199.93" y2="478.35" stroke="#151515" stroke-width="1" /><line x1="217.35" y1="492.18" x2="199.93" y2="479.85" stroke="#151515" stroke-width="1" /><line x1="224.76" y1="477.12" x2="207.31" y2="464.45" stroke="#151515" stroke-width="1" /><line x1="224.76" y1="478.62" x2="207.31" y2="465.95" stroke="#151515" stroke-width="1" /><line x1="233.9" y1="464.68" x2="216.43" y2="451.71" stroke="#151515" stroke-width="1" /><line x1="233.9" y1="466.18" x2="216.43" y2="453.21" stroke="#151515" stroke-width="1" /><line x1="244.61" y1="453.57" x2="227.16" y2="440.37" stroke="#151515" stroke-width="1" /><line x1="244.61" y1="455.07" x2="227.16" y2="441.87" stroke="#151515" stroke-width="1" /><line x1="256.79" y1="444.12" x2="239.38" y2="430.75" stroke="#151515" stroke-width="1" /><line x1="256.79" y1="445.62" x2="239.38" y2="432.25" stroke="#151515" stroke-width="1" /><line x1="270.22" y1="436.57" x2="252.91" y2="423.14" stroke="#151515" stroke-width="1" /><line x1="270.22" y1="438.07" x2="252.91" y2="424.64" stroke="#151515" stroke-width="1" /><line x1="284.67" y1="431.27" x2="267.56" y2="417.9" stroke="#151515" stroke-width="1" /><line x1="284.67" y1="432.77" x2="267.56" y2="419.4" stroke="#151515" stroke-width="1" /><line x1="299.81" y1="428.55" x2="283.05" y2="415.43" stroke="#151515" stroke-width="1" /><line x1="299.81" y1="430.05" x2="283.05" y2="416.93" stroke="#151515" stroke-width="1" /><line x1="315.19" y1="428.67" x2="299.16" y2="416.17" stroke="#151515" stroke-width="1" /><line x1="315.19" y1="430.17" x2="299.16" y2="417.67" stroke="#151515" stroke-width="1" /><line x1="330.26" y1="431.81" x2="316.39" y2="421.1" stroke="#151515" stroke-width="1" /><line x1="330.26" y1="433.31" x2="316.39" y2="422.6" stroke="#151515" stroke-width="1" /><line x1="264.46" y1="789.24" x2="243.91" y2="776.11" stroke="#151515" stroke-width="1" /><line x1="264.46" y1="790.74" x2="243.91" y2="777.61" stroke="#151515" stroke-width="1" /><line x1="250.6" y1="782.58" x2="237.11" y2="773.96" stroke="#151515" stroke-width="1" /><line x1="250.6" y1="784.08" x2="237.11" y2="775.46" stroke="#151515" stroke-width="1" /><line x1="227.92" y1="761.99" x2="205.72" y2="747.8" stroke="#151515" stroke-width="1" /><line x1="227.92" y1="763.49" x2="205.72" y2="749.3" stroke="#151515" stroke-width="1" /><line x1="219.58" y1="749.06" x2="199.08" y2="735.95" stroke="#151515" stroke-width="1" /><line x1="219.58" y1="750.56" x2="199.08" y2="737.45" stroke="#151515" stroke-width="1" /><line x1="213.29" y1="735.01" x2="194.06" y2="722.72" stroke="#151515" stroke-width="1" /><line x1="213.29" y1="736.51" x2="194.06" y2="724.22" stroke="#151515" stroke-width="1" /><line x1="209.09" y1="720.2" x2="190.8" y2="708.51" stroke="#151515" stroke-width="1" /><line x1="209.09" y1="721.7" x2="190.8" y2="710.01" stroke="#151515" stroke-width="1" /><line x1="206.85" y1="704.97" x2="189.38" y2="693.81" stroke="#151515" stroke-width="1" /><line x1="206.85" y1="706.47" x2="189.38" y2="695.31" stroke="#151515" stroke-width="1" /><line x1="206.42" y1="689.58" x2="189.32" y2="678.65" stroke="#151515" stroke-width="1" /><line x1="206.42" y1="691.08" x2="189.32" y2="680.15" stroke="#151515" stroke-width="1" /><line x1="206.42" y1="674.17" x2="189.32" y2="663.24" stroke="#151515" stroke-width="1" /><line x1="206.42" y1="675.67" x2="189.32" y2="664.74" stroke="#151515" stroke-width="1" /><line x1="206.42" y1="658.77" x2="189.32" y2="647.84" stroke="#151515" stroke-width="1" /><line x1="206.42" y1="660.27" x2="189.32" y2="649.34" stroke="#151515" stroke-width="1" /><line x1="206.42" y1="643.36" x2="189.32" y2="632.43" stroke="#151515" stroke-width="1" /><line x1="206.42" y1="644.86" x2="189.32" y2="633.93" stroke="#151515" stroke-width="1" /><line x1="206.42" y1="627.96" x2="189.32" y2="617.03" stroke="#151515" stroke-width="1" /><line x1="206.42" y1="629.46" x2="189.32" y2="618.53" stroke="#151515" stroke-width="1" /><line x1="206.42" y1="612.55" x2="189.32" y2="601.62" stroke="#151515" stroke-width="1" /><line x1="206.42" y1="614.05" x2="189.32" y2="603.12" stroke="#151515" stroke-width="1" /><line x1="206.42" y1="597.15" x2="189.32" y2="586.22" stroke="#151515" stroke-width="1" /><line x1="206.42" y1="598.65" x2="189.32" y2="587.72" stroke="#151515" stroke-width="1" /><line x1="206.42" y1="581.74" x2="189.32" y2="570.81" stroke="#151515" stroke-width="1" /><line x1="206.42" y1="583.24" x2="189.32" y2="572.31" stroke="#151515" stroke-width="1" /><line x1="206.42" y1="566.34" x2="189.32" y2="555.41" stroke="#151515" stroke-width="1" /><line x1="206.42" y1="567.84" x2="189.32" y2="556.91" stroke="#151515" stroke-width="1" /><line x1="206.42" y1="550.94" x2="189.32" y2="540" stroke="#151515" stroke-width="1" /><line x1="206.42" y1="552.44" x2="189.32" y2="541.5" stroke="#151515" stroke-width="1" /><path d="M210.1 541.49 L210.19 537.2 L210.44 532.9 L210.87 528.6 L211.47 524.29 L212.23 520 L213.16 515.72 L214.26 511.48 L215.52 507.26 L216.94 503.09 L218.52 498.98 L220.26 494.92 L222.14 490.92 L224.18 487 L226.36 483.16 L228.68 479.41 L231.13 475.76 L233.72 472.21 L236.43 468.77 L239.26 465.44 L242.21 462.24 L245.27 459.17 L248.44 456.23 L251.7 453.43 L255.05 450.77 L258.49 448.27 L262.01 445.92 L265.6 443.73 L269.25 441.71 L272.97 439.85 L276.73 438.16 L280.54 436.65 L284.39 435.32 L288.27 434.16 L292.16 433.19 L296.08 432.4 L300 431.8 L303.92 431.38 L307.84 431.15 L311.73 431.11 L315.61 431.26 L319.46 431.59 L323.27 432.11 L327.03 432.82 L330.75 433.71 L334.4 434.79 L337.99 436.04 L341.51 437.48 L344.95 439.09 L348.3 440.87 L351.56 442.82 L354.73 444.94 L357.79 447.22 L360.74 449.65 L363.57 452.24 L366.28 454.98 L368.87 457.85 L371.32 460.87 L373.64 464.02 L375.82 467.29 L377.86 470.68 L379.74 474.18 L381.48 477.79 L383.06 481.5 L384.48 485.3 L385.74 489.18 L386.84 493.15 L387.77 497.18 L388.53 501.27 L389.13 505.42 L389.56 509.62 L389.81 513.85 L389.9 518.11 L389.9 681.1 L389.81 685.76 L389.56 690.42 L389.13 695.08 L388.53 699.73 L387.77 704.36 L386.84 708.96 L385.74 713.52 L384.48 718.04 L383.06 722.5 L381.48 726.9 L379.74 731.23 L377.86 735.47 L375.82 739.63 L373.64 743.69 L371.32 747.65 L368.87 751.49 L366.28 755.22 L363.57 758.82 L360.74 762.29 L357.79 765.62 L354.73 768.8 L351.56 771.83 L348.3 774.71 L344.95 777.42 L341.51 779.96 L337.99 782.33 L334.4 784.52 L330.75 786.53 L327.03 788.36 L323.27 790 L319.46 791.44 L315.61 792.69 L311.73 793.74 L307.84 794.6 L303.92 795.25 L300 795.7 L296.08 795.95 L292.16 795.99 L288.27 795.83 L284.39 795.47 L280.54 794.9 L276.73 794.14 L272.97 793.17 L269.25 792.01 L265.6 790.65 L262.01 789.09 L258.49 787.35 L255.05 785.42 L251.7 783.3 L248.44 781.01 L245.27 778.54 L242.21 775.9 L239.26 773.1 L236.43 770.14 L233.72 767.02 L231.13 763.75 L228.68 760.34 L226.36 756.8 L224.18 753.12 L222.14 749.33 L220.26 745.42 L218.52 741.4 L216.94 737.29 L215.52 733.08 L214.26 728.79 L213.16 724.42 L212.23 719.98 L211.47 715.49 L210.87 710.95 L210.44 706.36 L210.19 701.74 L210.1 697.1 Z" fill="#fff" stroke="#111" stroke-width="1.6" stroke-linejoin="round" stroke-linecap="round" /><clipPath id="cpin"><path d="M224.3 535.04 L224.37 531.35 L224.59 527.66 L224.95 523.97 L225.45 520.29 L226.09 516.63 L226.87 512.99 L227.79 509.38 L228.85 505.81 L230.05 502.28 L231.37 498.81 L232.83 495.39 L234.42 492.03 L236.12 488.75 L237.95 485.54 L239.9 482.41 L241.96 479.38 L244.14 476.43 L246.41 473.59 L248.79 470.85 L251.27 468.23 L253.84 465.72 L256.49 463.33 L259.23 461.06 L262.05 458.93 L264.94 456.93 L267.89 455.06 L270.91 453.34 L273.98 451.76 L277.1 450.32 L280.26 449.04 L283.46 447.91 L286.69 446.93 L289.95 446.11 L293.22 445.45 L296.51 444.94 L299.8 444.6 L303.09 444.42 L306.38 444.39 L309.65 444.53 L312.91 444.83 L316.14 445.29 L319.34 445.91 L322.5 446.69 L325.62 447.62 L328.69 448.71 L331.71 449.96 L334.66 451.35 L337.55 452.89 L340.37 454.57 L343.11 456.4 L345.76 458.36 L348.33 460.46 L350.81 462.69 L353.19 465.05 L355.46 467.53 L357.64 470.12 L359.7 472.83 L361.65 475.64 L363.48 478.56 L365.18 481.57 L366.77 484.67 L368.23 487.86 L369.55 491.12 L370.75 494.46 L371.81 497.86 L372.73 501.32 L373.51 504.84 L374.15 508.4 L374.65 512 L375.01 515.63 L375.23 519.28 L375.3 522.96 L375.3 688.45 L375.23 692.3 L375.01 696.14 L374.65 699.98 L374.15 703.81 L373.51 707.61 L372.73 711.38 L371.81 715.12 L370.75 718.81 L369.55 722.46 L368.23 726.04 L366.77 729.56 L365.18 733.02 L363.48 736.39 L361.65 739.68 L359.7 742.88 L357.64 745.98 L355.46 748.98 L353.19 751.87 L350.81 754.65 L348.33 757.31 L345.76 759.85 L343.11 762.26 L340.37 764.53 L337.55 766.67 L334.66 768.67 L331.71 770.52 L328.69 772.22 L325.62 773.77 L322.5 775.16 L319.34 776.4 L316.14 777.48 L312.91 778.39 L309.65 779.14 L306.38 779.73 L303.09 780.15 L299.8 780.4 L296.51 780.48 L293.22 780.4 L289.95 780.15 L286.69 779.73 L283.46 779.15 L280.26 778.39 L277.1 777.48 L273.98 776.4 L270.91 775.17 L267.89 773.77 L264.94 772.22 L262.05 770.52 L259.23 768.67 L256.49 766.68 L253.84 764.54 L251.27 762.26 L248.79 759.86 L246.41 757.32 L244.14 754.66 L241.96 751.88 L239.9 748.99 L237.95 745.99 L236.12 742.88 L234.42 739.68 L232.83 736.4 L231.37 733.02 L230.05 729.57 L228.85 726.05 L227.79 722.46 L226.87 718.82 L226.09 715.13 L225.45 711.39 L224.95 707.62 L224.59 703.81 L224.37 699.99 L224.3 696.15 Z"/></clipPath><g clip-path="url(#cpin)"><polygon points="224.3,535.04 224.37,531.35 210.8,519.23 210.73,522.97" fill="#fff" stroke="#fff" stroke-width="0.5" stroke-linejoin="round" /><polygon points="224.37,531.35 224.59,527.66 211.01,515.49 210.8,519.23" fill="#fff" stroke="#fff" stroke-width="0.5" stroke-linejoin="round" /><polygon points="224.59,527.66 224.95,523.97 211.37,511.75 211.01,515.49" fill="#fff" stroke="#fff" stroke-width="0.5" stroke-linejoin="round" /><polygon points="224.95,523.97 225.45,520.29 211.87,508.02 211.37,511.75" fill="#fff" stroke="#fff" stroke-width="0.5" stroke-linejoin="round" /><polygon points="225.45,520.29 226.09,516.63 212.51,504.31 211.87,508.02" fill="#fff" stroke="#fff" stroke-width="0.5" stroke-linejoin="round" /><polygon points="226.09,516.63 226.87,512.99 213.3,500.62 212.51,504.31" fill="#fff" stroke="#fff" stroke-width="0.5" stroke-linejoin="round" /><polygon points="226.87,512.99 227.79,509.38 214.22,496.96 213.3,500.62" fill="#fff" stroke="#fff" stroke-width="0.5" stroke-linejoin="round" /><polygon points="227.79,509.38 228.85,505.81 215.27,493.34 214.22,496.96" fill="#fff" stroke="#fff" stroke-width="0.5" stroke-linejoin="round" /><polygon points="228.85,505.81 230.05,502.28 216.47,489.77 215.27,493.34" fill="#fff" stroke="#fff" stroke-width="0.5" stroke-linejoin="round" /><polygon points="230.05,502.28 231.37,498.81 217.79,486.24 216.47,489.77" fill="#fff" stroke="#fff" stroke-width="0.5" stroke-linejoin="round" /><polygon points="231.37,498.81 232.83,495.39 219.25,482.78 217.79,486.24" fill="#fff" stroke="#fff" stroke-width="0.5" stroke-linejoin="round" /><polygon points="232.83,495.39 234.42,492.03 220.83,479.38 219.25,482.78" fill="#fff" stroke="#fff" stroke-width="0.5" stroke-linejoin="round" /><polygon points="234.42,492.03 236.12,488.75 222.54,476.05 220.83,479.38" fill="#fff" stroke="#fff" stroke-width="0.5" stroke-linejoin="round" /><polygon points="236.12,488.75 237.95,485.54 224.37,472.79 222.54,476.05" fill="#fff" stroke="#fff" stroke-width="0.5" stroke-linejoin="round" /><polygon points="237.95,485.54 239.9,482.41 226.32,469.63 224.37,472.79" fill="#fff" stroke="#fff" stroke-width="0.5" stroke-linejoin="round" /><polygon points="239.9,482.41 241.96,479.38 228.38,466.55 226.32,469.63" fill="#fff" stroke="#fff" stroke-width="0.5" stroke-linejoin="round" /><polygon points="241.96,479.38 244.14,476.43 230.55,463.57 228.38,466.55" fill="#fff" stroke="#fff" stroke-width="0.5" stroke-linejoin="round" /><polygon points="244.14,476.43 246.41,473.59 232.83,460.68 230.55,463.57" fill="#fff" stroke="#fff" stroke-width="0.5" stroke-linejoin="round" /><polygon points="246.41,473.59 248.79,470.85 235.2,457.91 232.83,460.68" fill="#fff" stroke="#fff" stroke-width="0.5" stroke-linejoin="round" /><polygon points="248.79,470.85 251.27,468.23 237.68,455.25 235.2,457.91" fill="#fff" stroke="#fff" stroke-width="0.5" stroke-linejoin="round" /><polygon points="251.27,468.23 253.84,465.72 240.25,452.7 237.68,455.25" fill="#fff" stroke="#fff" stroke-width="0.5" stroke-linejoin="round" /><polygon points="253.84,465.72 256.49,463.33 242.9,450.28 240.25,452.7" fill="#fff" stroke="#fff" stroke-width="0.5" stroke-linejoin="round" /><polygon points="256.49,463.33 259.23,461.06 245.64,447.99 242.9,450.28" fill="#fff" stroke="#fff" stroke-width="0.5" stroke-linejoin="round" /><polygon points="259.23,461.06 262.05,458.93 248.46,445.82 245.64,447.99" fill="#fff" stroke="#fff" stroke-width="0.5" stroke-linejoin="round" /><polygon points="262.05,458.93 264.94,456.93 251.35,443.79 248.46,445.82" fill="#fff" stroke="#fff" stroke-width="0.5" stroke-linejoin="round" /><polygon points="264.94,456.93 267.89,455.06 254.3,441.9 251.35,443.79" fill="#fff" stroke="#fff" stroke-width="0.5" stroke-linejoin="round" /><polygon points="267.89,455.06 270.91,453.34 257.31,440.15 254.3,441.9" fill="#fff" stroke="#fff" stroke-width="0.5" stroke-linejoin="round" /><polygon points="270.91,453.34 273.98,451.76 260.38,438.55 257.31,440.15" fill="#fff" stroke="#fff" stroke-width="0.5" stroke-linejoin="round" /><polygon points="273.98,451.76 277.1,450.32 263.5,437.1 260.38,438.55" fill="#fff" stroke="#fff" stroke-width="0.5" stroke-linejoin="round" /><polygon points="277.1,450.32 280.26,449.04 266.66,435.8 263.5,437.1" fill="#fff" stroke="#fff" stroke-width="0.5" stroke-linejoin="round" /><polygon points="280.26,449.04 283.46,447.91 269.86,434.65 266.66,435.8" fill="#fff" stroke="#fff" stroke-width="0.5" stroke-linejoin="round" /><polygon points="283.46,447.91 286.69,446.93 273.09,433.66 269.86,434.65" fill="#fff" stroke="#fff" stroke-width="0.5" stroke-linejoin="round" /><polygon points="286.69,446.93 289.95,446.11 276.35,432.83 273.09,433.66" fill="#fff" stroke="#fff" stroke-width="0.5" stroke-linejoin="round" /><polygon points="289.95,446.11 293.22,445.45 279.62,432.16 276.35,432.83" fill="#fff" stroke="#fff" stroke-width="0.5" stroke-linejoin="round" /><polygon points="293.22,445.45 296.51,444.94 282.91,431.65 279.62,432.16" fill="#fff" stroke="#fff" stroke-width="0.5" stroke-linejoin="round" /><polygon points="296.51,444.94 299.8,444.6 286.2,431.3 282.91,431.65" fill="#fff" stroke="#fff" stroke-width="0.5" stroke-linejoin="round" /><polygon points="299.8,444.6 303.09,444.42 289.5,431.11 286.2,431.3" fill="#fff" stroke="#fff" stroke-width="0.5" stroke-linejoin="round" /><polygon points="303.09,444.42 306.38,444.39 292.78,431.09 289.5,431.11" fill="#fff" stroke="#fff" stroke-width="0.5" stroke-linejoin="round" /><polygon points="306.38,444.39 309.65,444.53 296.06,431.23 292.78,431.09" fill="#fff" stroke="#fff" stroke-width="0.5" stroke-linejoin="round" /><polygon points="309.65,444.53 312.91,444.83 299.31,431.54 296.06,431.23" fill="#fff" stroke="#fff" stroke-width="0.5" stroke-linejoin="round" /><polygon points="312.91,444.83 316.14,445.29 302.55,432 299.31,431.54" fill="#fff" stroke="#fff" stroke-width="0.5" stroke-linejoin="round" /><polygon points="316.14,445.29 319.34,445.91 305.75,432.63 302.55,432" fill="#fff" stroke="#fff" stroke-width="0.5" stroke-linejoin="round" /><polygon points="319.34,445.91 322.5,446.69 308.91,433.42 305.75,432.63" fill="#fff" stroke="#fff" stroke-width="0.5" stroke-linejoin="round" /><polygon points="322.5,446.69 325.62,447.62 312.03,434.36 308.91,433.42" fill="#fff" stroke="#fff" stroke-width="0.5" stroke-linejoin="round" /><polygon points="325.62,447.62 328.69,448.71 315.1,435.47 312.03,434.36" fill="#fff" stroke="#fff" stroke-width="0.5" stroke-linejoin="round" /><polygon points="328.69,448.71 331.71,449.96 318.11,436.73 315.1,435.47" fill="#fff" stroke="#fff" stroke-width="0.5" stroke-linejoin="round" /><polygon points="331.71,449.96 334.66,451.35 321.07,438.14 318.11,436.73" fill="#fff" stroke="#fff" stroke-width="0.5" stroke-linejoin="round" /><polygon points="334.66,451.35 337.55,452.89 323.96,439.7 321.07,438.14" fill="#fff" stroke="#fff" stroke-width="0.5" stroke-linejoin="round" /><polygon points="337.55,452.89 340.37,454.57 326.77,441.41 323.96,439.7" fill="#fff" stroke="#fff" stroke-width="0.5" stroke-linejoin="round" /><polygon points="340.37,454.57 343.11,456.4 329.51,443.26 326.77,441.41" fill="#fff" stroke="#fff" stroke-width="0.5" stroke-linejoin="round" /><polygon points="343.11,456.4 345.76,458.36 332.17,445.25 329.51,443.26" fill="#fff" stroke="#fff" stroke-width="0.5" stroke-linejoin="round" /><polygon points="345.76,458.36 348.33,460.46 334.74,447.38 332.17,445.25" fill="#fff" stroke="#fff" stroke-width="0.5" stroke-linejoin="round" /><polygon points="348.33,460.46 350.81,462.69 337.22,449.64 334.74,447.38" fill="#fff" stroke="#fff" stroke-width="0.5" stroke-linejoin="round" /><polygon points="350.81,462.69 353.19,465.05 339.6,452.03 337.22,449.64" fill="#fff" stroke="#fff" stroke-width="0.5" stroke-linejoin="round" /><polygon points="353.19,465.05 355.46,467.53 341.87,454.54 339.6,452.03" fill="#fff" stroke="#fff" stroke-width="0.5" stroke-linejoin="round" /><polygon points="355.46,467.53 357.64,470.12 344.05,457.17 341.87,454.54" fill="#fff" stroke="#fff" stroke-width="0.5" stroke-linejoin="round" /><polygon points="357.64,470.12 359.7,472.83 346.11,459.91 344.05,457.17" fill="#fff" stroke="#fff" stroke-width="0.5" stroke-linejoin="round" /><polygon points="359.7,472.83 361.65,475.64 348.06,462.76 346.11,459.91" fill="#fff" stroke="#fff" stroke-width="0.5" stroke-linejoin="round" /><polygon points="361.65,475.64 363.48,478.56 349.89,465.72 348.06,462.76" fill="#fff" stroke="#fff" stroke-width="0.5" stroke-linejoin="round" /><polygon points="363.48,478.56 365.18,481.57 351.6,468.77 349.89,465.72" fill="#fff" stroke="#fff" stroke-width="0.5" stroke-linejoin="round" /><polygon points="365.18,481.57 366.77,484.67 353.18,471.92 351.6,468.77" fill="#fff" stroke="#fff" stroke-width="0.5" stroke-linejoin="round" /><polygon points="366.77,484.67 368.23,487.86 354.64,475.15 353.18,471.92" fill="#fff" stroke="#fff" stroke-width="0.5" stroke-linejoin="round" /><polygon points="368.23,487.86 369.55,491.12 355.97,478.45 354.64,475.15" fill="#fff" stroke="#fff" stroke-width="0.5" stroke-linejoin="round" /><polygon points="369.55,491.12 370.75,494.46 357.16,481.84 355.97,478.45" fill="#fff" stroke="#fff" stroke-width="0.5" stroke-linejoin="round" /><polygon points="370.75,494.46 371.81,497.86 358.22,485.28 357.16,481.84" fill="#fff" stroke="#fff" stroke-width="0.5" stroke-linejoin="round" /><polygon points="371.81,497.86 372.73,501.32 359.15,488.79 358.22,485.28" fill="#fff" stroke="#fff" stroke-width="0.5" stroke-linejoin="round" /><polygon points="372.73,501.32 373.51,504.84 359.93,492.36 359.15,488.79" fill="#fff" stroke="#fff" stroke-width="0.5" stroke-linejoin="round" /><polygon points="373.51,504.84 374.15,508.4 360.57,495.96 359.93,492.36" fill="#fff" stroke="#fff" stroke-width="0.5" stroke-linejoin="round" /><polygon points="374.15,508.4 374.65,512 361.08,499.61 360.57,495.96" fill="#fff" stroke="#fff" stroke-width="0.5" stroke-linejoin="round" /><polygon points="374.65,512 375.01,515.63 361.44,503.29 361.08,499.61" fill="#fff" stroke="#fff" stroke-width="0.5" stroke-linejoin="round" /><polygon points="375.01,515.63 375.23,519.28 361.65,507 361.44,503.29" fill="#fff" stroke="#fff" stroke-width="0.5" stroke-linejoin="round" /><polygon points="375.23,519.28 375.3,522.96 361.73,510.73 361.65,507" fill="#fff" stroke="#fff" stroke-width="0.5" stroke-linejoin="round" /><polygon points="375.3,522.96 375.3,688.45 361.77,678.47 361.73,510.73" fill="#fff" stroke="#fff" stroke-width="0.5" stroke-linejoin="round" /><polygon points="375.3,688.45 375.23,692.3 361.7,682.37 361.77,678.47" fill="#fff" stroke="#fff" stroke-width="0.5" stroke-linejoin="round" /><polygon points="375.23,692.3 375.01,696.14 361.49,686.27 361.7,682.37" fill="#fff" stroke="#fff" stroke-width="0.5" stroke-linejoin="round" /><polygon points="375.01,696.14 374.65,699.98 361.13,690.16 361.49,686.27" fill="#fff" stroke="#fff" stroke-width="0.5" stroke-linejoin="round" /><polygon points="374.65,699.98 374.15,703.81 360.63,694.04 361.13,690.16" fill="#fff" stroke="#fff" stroke-width="0.5" stroke-linejoin="round" /><polygon points="374.15,703.81 373.51,707.61 359.99,697.89 360.63,694.04" fill="#fff" stroke="#fff" stroke-width="0.5" stroke-linejoin="round" /><polygon points="373.51,707.61 372.73,711.38 359.2,701.72 359.99,697.89" fill="#fff" stroke="#fff" stroke-width="0.5" stroke-linejoin="round" /><polygon points="372.73,711.38 371.81,715.12 358.28,705.5 359.2,701.72" fill="#fff" stroke="#fff" stroke-width="0.5" stroke-linejoin="round" /><polygon points="371.81,715.12 370.75,718.81 357.23,709.25 358.28,705.5" fill="#fff" stroke="#fff" stroke-width="0.5" stroke-linejoin="round" /><polygon points="370.75,718.81 369.55,722.46 356.03,712.94 357.23,709.25" fill="#fff" stroke="#fff" stroke-width="0.5" stroke-linejoin="round" /><polygon points="369.55,722.46 368.23,726.04 354.71,716.58 356.03,712.94" fill="#fff" stroke="#fff" stroke-width="0.5" stroke-linejoin="round" /><polygon points="368.23,726.04 366.77,729.56 353.25,720.15 354.71,716.58" fill="#fff" stroke="#fff" stroke-width="0.5" stroke-linejoin="round" /><polygon points="366.77,729.56 365.18,733.02 351.67,723.64 353.25,720.15" fill="#fff" stroke="#fff" stroke-width="0.5" stroke-linejoin="round" /><polygon points="365.18,733.02 363.48,736.39 349.96,727.06 351.67,723.64" fill="#fff" stroke="#fff" stroke-width="0.5" stroke-linejoin="round" /><polygon points="363.48,736.39 361.65,739.68 348.13,730.4 349.96,727.06" fill="#fff" stroke="#fff" stroke-width="0.5" stroke-linejoin="round" /><polygon points="361.65,739.68 359.7,742.88 346.18,733.64 348.13,730.4" fill="#fff" stroke="#fff" stroke-width="0.5" stroke-linejoin="round" /><polygon points="359.7,742.88 357.64,745.98 344.12,736.78 346.18,733.64" fill="#fff" stroke="#fff" stroke-width="0.5" stroke-linejoin="round" /><polygon points="357.64,745.98 355.46,748.98 341.95,739.83 344.12,736.78" fill="#fff" stroke="#fff" stroke-width="0.5" stroke-linejoin="round" /><polygon points="355.46,748.98 353.19,751.87 339.67,742.76 341.95,739.83" fill="#fff" stroke="#fff" stroke-width="0.5" stroke-linejoin="round" /><polygon points="353.19,751.87 350.81,754.65 337.3,745.58 339.67,742.76" fill="#fff" stroke="#fff" stroke-width="0.5" stroke-linejoin="round" /><polygon points="350.81,754.65 348.33,757.31 334.82,748.27 337.3,745.58" fill="#fff" stroke="#fff" stroke-width="0.5" stroke-linejoin="round" /><polygon points="348.33,757.31 345.76,759.85 332.25,750.84 334.82,748.27" fill="#fff" stroke="#fff" stroke-width="0.5" stroke-linejoin="round" /><polygon points="345.76,759.85 343.11,762.26 329.6,753.29 332.25,750.84" fill="#fff" stroke="#fff" stroke-width="0.5" stroke-linejoin="round" /><polygon points="343.11,762.26 340.37,764.53 326.86,755.59 329.6,753.29" fill="#fff" stroke="#fff" stroke-width="0.5" stroke-linejoin="round" /><polygon points="340.37,764.53 337.55,766.67 324.04,757.76 326.86,755.59" fill="#fff" stroke="#fff" stroke-width="0.5" stroke-linejoin="round" /><polygon points="337.55,766.67 334.66,768.67 321.15,759.78 324.04,757.76" fill="#fff" stroke="#fff" stroke-width="0.5" stroke-linejoin="round" /><polygon points="334.66,768.67 331.71,770.52 318.2,761.66 321.15,759.78" fill="#fff" stroke="#fff" stroke-width="0.5" stroke-linejoin="round" /><polygon points="331.71,770.52 328.69,772.22 315.19,763.38 318.2,761.66" fill="#fff" stroke="#fff" stroke-width="0.5" stroke-linejoin="round" /><polygon points="328.69,772.22 325.62,773.77 312.12,764.95 315.19,763.38" fill="#fff" stroke="#fff" stroke-width="0.5" stroke-linejoin="round" /><polygon points="325.62,773.77 322.5,775.16 309,766.37 312.12,764.95" fill="#fff" stroke="#fff" stroke-width="0.5" stroke-linejoin="round" /><polygon points="322.5,775.16 319.34,776.4 305.84,767.62 309,766.37" fill="#fff" stroke="#fff" stroke-width="0.5" stroke-linejoin="round" /><polygon points="319.34,776.4 316.14,777.48 302.64,768.71 305.84,767.62" fill="#fff" stroke="#fff" stroke-width="0.5" stroke-linejoin="round" /><polygon points="316.14,777.48 312.91,778.39 299.41,769.64 302.64,768.71" fill="#fff" stroke="#fff" stroke-width="0.5" stroke-linejoin="round" /><polygon points="312.91,778.39 309.65,779.14 296.15,770.4 299.41,769.64" fill="#fff" stroke="#fff" stroke-width="0.5" stroke-linejoin="round" /><polygon points="309.65,779.14 306.38,779.73 292.88,770.99 296.15,770.4" fill="#fff" stroke="#fff" stroke-width="0.5" stroke-linejoin="round" /><polygon points="306.38,779.73 303.09,780.15 289.59,771.42 292.88,770.99" fill="#fff" stroke="#fff" stroke-width="0.5" stroke-linejoin="round" /><polygon points="303.09,780.15 299.8,780.4 286.3,771.67 289.59,771.42" fill="#fff" stroke="#fff" stroke-width="0.5" stroke-linejoin="round" /><polygon points="299.8,780.4 296.51,780.48 283,771.76 286.3,771.67" fill="#fff" stroke="#fff" stroke-width="0.5" stroke-linejoin="round" /><polygon points="296.51,780.48 293.22,780.4 279.72,771.67 283,771.76" fill="#fff" stroke="#fff" stroke-width="0.5" stroke-linejoin="round" /><polygon points="293.22,780.4 289.95,780.15 276.44,771.42 279.72,771.67" fill="#fff" stroke="#fff" stroke-width="0.5" stroke-linejoin="round" /><polygon points="289.95,780.15 286.69,779.73 273.18,770.99 276.44,771.42" fill="#fff" stroke="#fff" stroke-width="0.5" stroke-linejoin="round" /><polygon points="286.69,779.73 283.46,779.15 269.95,770.4 273.18,770.99" fill="#fff" stroke="#fff" stroke-width="0.5" stroke-linejoin="round" /><polygon points="283.46,779.15 280.26,778.39 266.75,769.64 269.95,770.4" fill="#fff" stroke="#fff" stroke-width="0.5" stroke-linejoin="round" /><polygon points="280.26,778.39 277.1,777.48 263.59,768.71 266.75,769.64" fill="#fff" stroke="#fff" stroke-width="0.5" stroke-linejoin="round" /><polygon points="277.1,777.48 273.98,776.4 260.47,767.62 263.59,768.71" fill="#fff" stroke="#fff" stroke-width="0.5" stroke-linejoin="round" /><polygon points="273.98,776.4 270.91,775.17 257.4,766.37 260.47,767.62" fill="#fff" stroke="#fff" stroke-width="0.5" stroke-linejoin="round" /><polygon points="270.91,775.17 267.89,773.77 254.39,764.96 257.4,766.37" fill="#fff" stroke="#fff" stroke-width="0.5" stroke-linejoin="round" /><polygon points="267.89,773.77 264.94,772.22 251.43,763.39 254.39,764.96" fill="#fff" stroke="#fff" stroke-width="0.5" stroke-linejoin="round" /><polygon points="264.94,772.22 262.05,770.52 248.54,761.66 251.43,763.39" fill="#fff" stroke="#fff" stroke-width="0.5" stroke-linejoin="round" /><polygon points="262.05,770.52 259.23,768.67 245.73,759.79 248.54,761.66" fill="#fff" stroke="#fff" stroke-width="0.5" stroke-linejoin="round" /><polygon points="259.23,768.67 256.49,766.68 242.99,757.76 245.73,759.79" fill="#fff" stroke="#fff" stroke-width="0.5" stroke-linejoin="round" /><polygon points="256.49,766.68 253.84,764.54 240.33,755.6 242.99,757.76" fill="#fff" stroke="#fff" stroke-width="0.5" stroke-linejoin="round" /><polygon points="253.84,764.54 251.27,762.26 237.76,753.29 240.33,755.6" fill="#fff" stroke="#fff" stroke-width="0.5" stroke-linejoin="round" /><polygon points="251.27,762.26 248.79,759.86 235.28,750.85 237.76,753.29" fill="#fff" stroke="#fff" stroke-width="0.5" stroke-linejoin="round" /><polygon points="248.79,759.86 246.41,757.32 232.9,748.28 235.28,750.85" fill="#fff" stroke="#fff" stroke-width="0.5" stroke-linejoin="round" /><polygon points="246.41,757.32 244.14,754.66 230.62,745.58 232.9,748.28" fill="#fff" stroke="#fff" stroke-width="0.5" stroke-linejoin="round" /><polygon points="244.14,754.66 241.96,751.88 228.45,742.76 230.62,745.58" fill="#fff" stroke="#fff" stroke-width="0.5" stroke-linejoin="round" /><polygon points="241.96,751.88 239.9,748.99 226.39,739.83 228.45,742.76" fill="#fff" stroke="#fff" stroke-width="0.5" stroke-linejoin="round" /><polygon points="239.9,748.99 237.95,745.99 224.44,736.79 226.39,739.83" fill="#fff" stroke="#fff" stroke-width="0.5" stroke-linejoin="round" /><polygon points="237.95,745.99 236.12,742.88 222.61,733.65 224.44,736.79" fill="#fff" stroke="#fff" stroke-width="0.5" stroke-linejoin="round" /><polygon points="236.12,742.88 234.42,739.68 220.9,730.4 222.61,733.65" fill="#fff" stroke="#fff" stroke-width="0.5" stroke-linejoin="round" /><polygon points="234.42,739.68 232.83,736.4 219.31,727.07 220.9,730.4" fill="#fff" stroke="#fff" stroke-width="0.5" stroke-linejoin="round" /><polygon points="232.83,736.4 231.37,733.02 217.86,723.65 219.31,727.07" fill="#fff" stroke="#fff" stroke-width="0.5" stroke-linejoin="round" /><polygon points="231.37,733.02 230.05,729.57 216.53,720.15 217.86,723.65" fill="#fff" stroke="#fff" stroke-width="0.5" stroke-linejoin="round" /><polygon points="230.05,729.57 228.85,726.05 215.33,716.58 216.53,720.15" fill="#fff" stroke="#fff" stroke-width="0.5" stroke-linejoin="round" /><polygon points="228.85,726.05 227.79,722.46 214.27,712.95 215.33,716.58" fill="#fff" stroke="#fff" stroke-width="0.5" stroke-linejoin="round" /><polygon points="227.79,722.46 226.87,718.82 213.35,709.26 214.27,712.95" fill="#fff" stroke="#fff" stroke-width="0.5" stroke-linejoin="round" /><polygon points="226.87,718.82 226.09,715.13 212.57,705.51 213.35,709.26" fill="#fff" stroke="#fff" stroke-width="0.5" stroke-linejoin="round" /><polygon points="226.09,715.13 225.45,711.39 211.92,701.72 212.57,705.51" fill="#fff" stroke="#fff" stroke-width="0.5" stroke-linejoin="round" /><polygon points="225.45,711.39 224.95,707.62 211.42,697.9 211.92,701.72" fill="#fff" stroke="#fff" stroke-width="0.5" stroke-linejoin="round" /><polygon points="224.95,707.62 224.59,703.81 211.06,694.04 211.42,697.9" fill="#fff" stroke="#fff" stroke-width="0.5" stroke-linejoin="round" /><polygon points="224.59,703.81 224.37,699.99 210.85,690.17 211.06,694.04" fill="#fff" stroke="#fff" stroke-width="0.5" stroke-linejoin="round" /><polygon points="224.37,699.99 224.3,696.15 210.77,686.28 210.85,690.17" fill="#fff" stroke="#fff" stroke-width="0.5" stroke-linejoin="round" /><polygon points="224.3,696.15 224.3,535.04 210.73,522.97 210.77,686.28" fill="#fff" stroke="#fff" stroke-width="0.5" stroke-linejoin="round" /><line x1="226.62" y1="501.89" x2="215.89" y2="492.02" stroke="#151515" stroke-width="1" /><line x1="226.62" y1="503.39" x2="215.89" y2="493.52" stroke="#151515" stroke-width="1" /><line x1="231.8" y1="489.3" x2="221.07" y2="479.3" stroke="#151515" stroke-width="1" /><line x1="231.8" y1="490.8" x2="221.07" y2="480.8" stroke="#151515" stroke-width="1" /><line x1="238.73" y1="477.57" x2="228" y2="467.45" stroke="#151515" stroke-width="1" /><line x1="238.73" y1="479.07" x2="228" y2="468.95" stroke="#151515" stroke-width="1" /><line x1="247.28" y1="466.99" x2="236.54" y2="456.75" stroke="#151515" stroke-width="1" /><line x1="247.28" y1="468.49" x2="236.54" y2="458.25" stroke="#151515" stroke-width="1" /><line x1="257.33" y1="457.83" x2="246.6" y2="447.49" stroke="#151515" stroke-width="1" /><line x1="257.33" y1="459.33" x2="246.6" y2="448.99" stroke="#151515" stroke-width="1" /><line x1="268.73" y1="450.42" x2="257.99" y2="440" stroke="#151515" stroke-width="1" /><line x1="268.73" y1="451.92" x2="257.99" y2="441.5" stroke="#151515" stroke-width="1" /><line x1="281.24" y1="445.11" x2="270.5" y2="434.63" stroke="#151515" stroke-width="1" /><line x1="281.24" y1="446.61" x2="270.5" y2="436.13" stroke="#151515" stroke-width="1" /><line x1="294.5" y1="442.21" x2="283.76" y2="431.7" stroke="#151515" stroke-width="1" /><line x1="294.5" y1="443.71" x2="283.76" y2="433.2" stroke="#151515" stroke-width="1" /><line x1="308.08" y1="441.98" x2="297.33" y2="431.47" stroke="#151515" stroke-width="1" /><line x1="308.08" y1="443.48" x2="297.33" y2="432.97" stroke="#151515" stroke-width="1" /><line x1="321.41" y1="444.52" x2="310.67" y2="434.04" stroke="#151515" stroke-width="1" /><line x1="321.41" y1="446.02" x2="310.67" y2="435.54" stroke="#151515" stroke-width="1" /><line x1="333.93" y1="449.77" x2="323.19" y2="439.35" stroke="#151515" stroke-width="1" /><line x1="333.93" y1="451.27" x2="323.19" y2="440.85" stroke="#151515" stroke-width="1" /><line x1="345.14" y1="457.46" x2="334.4" y2="447.12" stroke="#151515" stroke-width="1" /><line x1="345.14" y1="458.96" x2="334.4" y2="448.62" stroke="#151515" stroke-width="1" /><line x1="354.63" y1="467.19" x2="343.9" y2="456.95" stroke="#151515" stroke-width="1" /><line x1="354.63" y1="468.69" x2="343.9" y2="458.45" stroke="#151515" stroke-width="1" /><line x1="362.18" y1="478.51" x2="351.45" y2="468.39" stroke="#151515" stroke-width="1" /><line x1="362.18" y1="480.01" x2="351.45" y2="469.89" stroke="#151515" stroke-width="1" /><line x1="367.68" y1="490.96" x2="356.95" y2="480.98" stroke="#151515" stroke-width="1" /><line x1="367.68" y1="492.46" x2="356.95" y2="482.48" stroke="#151515" stroke-width="1" /><line x1="371.12" y1="504.14" x2="360.39" y2="494.3" stroke="#151515" stroke-width="1" /><line x1="371.12" y1="505.64" x2="360.39" y2="495.8" stroke="#151515" stroke-width="1" /><line x1="370.23" y1="708.44" x2="359.55" y2="700.79" stroke="#151515" stroke-width="1" /><line x1="370.23" y1="709.94" x2="359.55" y2="702.29" stroke="#151515" stroke-width="1" /><line x1="366.49" y1="721.54" x2="355.8" y2="714.03" stroke="#151515" stroke-width="1" /><line x1="366.49" y1="723.04" x2="355.8" y2="715.53" stroke="#151515" stroke-width="1" /><line x1="361.03" y1="734.02" x2="350.35" y2="726.64" stroke="#151515" stroke-width="1" /><line x1="361.03" y1="735.52" x2="350.35" y2="728.14" stroke="#151515" stroke-width="1" /><line x1="353.88" y1="745.6" x2="343.2" y2="738.35" stroke="#151515" stroke-width="1" /><line x1="353.88" y1="747.1" x2="343.2" y2="739.85" stroke="#151515" stroke-width="1" /><line x1="345.12" y1="756.01" x2="334.44" y2="748.88" stroke="#151515" stroke-width="1" /><line x1="345.12" y1="757.51" x2="334.44" y2="750.38" stroke="#151515" stroke-width="1" /><line x1="334.83" y1="764.9" x2="324.15" y2="757.86" stroke="#151515" stroke-width="1" /><line x1="334.83" y1="766.4" x2="324.15" y2="759.36" stroke="#151515" stroke-width="1" /><line x1="323.16" y1="771.88" x2="312.49" y2="764.92" stroke="#151515" stroke-width="1" /><line x1="323.16" y1="773.38" x2="312.49" y2="766.42" stroke="#151515" stroke-width="1" /><line x1="310.42" y1="776.58" x2="299.75" y2="769.67" stroke="#151515" stroke-width="1" /><line x1="310.42" y1="778.08" x2="299.75" y2="771.17" stroke="#151515" stroke-width="1" /><line x1="297" y1="778.66" x2="286.33" y2="771.76" stroke="#151515" stroke-width="1" /><line x1="297" y1="780.16" x2="286.33" y2="773.26" stroke="#151515" stroke-width="1" /><line x1="283.45" y1="777.88" x2="272.78" y2="770.98" stroke="#151515" stroke-width="1" /><line x1="283.45" y1="779.38" x2="272.78" y2="772.48" stroke="#151515" stroke-width="1" /><line x1="270.36" y1="774.28" x2="259.69" y2="767.34" stroke="#151515" stroke-width="1" /><line x1="270.36" y1="775.78" x2="259.69" y2="768.84" stroke="#151515" stroke-width="1" /><line x1="258.29" y1="768.05" x2="247.62" y2="761.04" stroke="#151515" stroke-width="1" /><line x1="258.29" y1="769.55" x2="247.62" y2="762.54" stroke="#151515" stroke-width="1" /><line x1="247.66" y1="759.58" x2="236.98" y2="752.48" stroke="#151515" stroke-width="1" /><line x1="247.66" y1="761.08" x2="236.98" y2="753.98" stroke="#151515" stroke-width="1" /><line x1="238.73" y1="749.32" x2="228.06" y2="742.11" stroke="#151515" stroke-width="1" /><line x1="238.73" y1="750.82" x2="228.06" y2="743.61" stroke="#151515" stroke-width="1" /><line x1="231.65" y1="737.69" x2="220.97" y2="730.36" stroke="#151515" stroke-width="1" /><line x1="231.65" y1="739.19" x2="220.97" y2="731.86" stroke="#151515" stroke-width="1" /><line x1="226.47" y1="725.1" x2="215.79" y2="717.63" stroke="#151515" stroke-width="1" /><line x1="226.47" y1="726.6" x2="215.79" y2="719.13" stroke="#151515" stroke-width="1" /><line x1="223.16" y1="711.88" x2="212.48" y2="704.27" stroke="#151515" stroke-width="1" /><line x1="223.16" y1="713.38" x2="212.48" y2="705.77" stroke="#151515" stroke-width="1" /><line x1="221.68" y1="698.34" x2="211" y2="690.58" stroke="#151515" stroke-width="1" /><line x1="221.68" y1="699.84" x2="211" y2="692.08" stroke="#151515" stroke-width="1" /><path d="M221.59 532.63 L221.66 528.93 L221.87 525.23 L222.23 521.53 L222.73 517.84 L223.37 514.17 L224.16 510.52 L225.08 506.9 L226.14 503.32 L227.33 499.78 L228.66 496.29 L230.11 492.86 L231.7 489.5 L233.41 486.21 L235.24 482.99 L237.18 479.86 L239.25 476.81 L241.42 473.86 L243.7 471.01 L246.08 468.27 L248.55 465.63 L251.12 463.12 L253.78 460.72 L256.52 458.45 L259.33 456.31 L262.22 454.3 L265.17 452.43 L268.19 450.7 L271.26 449.12 L274.38 447.68 L277.54 446.39 L280.74 445.26 L283.97 444.28 L287.23 443.45 L290.5 442.79 L293.79 442.28 L297.08 441.94 L300.37 441.76 L303.66 441.73 L306.94 441.87 L310.19 442.17 L313.42 442.63 L316.62 443.26 L319.78 444.04 L322.9 444.97 L325.97 446.06 L328.99 447.31 L331.94 448.71 L334.83 450.25 L337.65 451.94 L340.39 453.77 L343.04 455.74 L345.61 457.85 L348.09 460.08 L350.47 462.44 L352.75 464.93 L354.92 467.53 L356.98 470.25 L358.93 473.07 L360.76 475.99 L362.47 479.01 L364.05 482.12 L365.51 485.31 L366.84 488.59 L368.03 491.93 L369.09 495.34 L370.01 498.82 L370.79 502.34 L371.44 505.91 L371.94 509.52 L372.3 513.16 L372.51 516.83 L372.59 520.51 L372.59 686.45 L372.52 690.31 L372.31 694.17 L371.95 698.02 L371.45 701.85 L370.81 705.67 L370.02 709.45 L369.1 713.2 L368.04 716.9 L366.85 720.55 L365.52 724.15 L364.07 727.68 L362.48 731.14 L360.77 734.52 L358.94 737.82 L357 741.03 L354.93 744.14 L352.76 747.15 L350.48 750.05 L348.1 752.84 L345.63 755.51 L343.06 758.05 L340.4 760.46 L337.66 762.75 L334.85 764.89 L331.96 766.89 L329.01 768.75 L325.99 770.45 L322.92 772.01 L319.8 773.41 L316.64 774.65 L313.44 775.73 L310.21 776.64 L306.95 777.4 L303.68 777.98 L300.39 778.4 L297.1 778.65 L293.81 778.74 L290.52 778.66 L287.24 778.4 L283.99 777.98 L280.76 777.4 L277.56 776.64 L274.4 775.73 L271.28 774.65 L268.21 773.41 L265.19 772.01 L262.24 770.46 L259.35 768.75 L256.53 766.89 L253.79 764.89 L251.14 762.75 L248.57 760.47 L246.09 758.05 L243.71 755.51 L241.43 752.84 L239.26 750.06 L237.2 747.16 L235.25 744.15 L233.42 741.04 L231.71 737.83 L230.13 734.53 L228.67 731.15 L227.34 727.69 L226.15 724.16 L225.09 720.56 L224.17 716.91 L223.39 713.2 L222.74 709.46 L222.24 705.67 L221.88 701.86 L221.67 698.03 L221.59 694.18 Z" fill="none" stroke="#333" stroke-width="0.7" stroke-linejoin="round" stroke-linecap="round" /><path d="M210.73 522.97 L210.8 519.23 L211.01 515.49 L211.37 511.75 L211.87 508.02 L212.51 504.31 L213.3 500.62 L214.22 496.96 L215.27 493.34 L216.47 489.77 L217.79 486.24 L219.25 482.78 L220.83 479.38 L222.54 476.05 L224.37 472.79 L226.32 469.63 L228.38 466.55 L230.55 463.57 L232.83 460.68 L235.2 457.91 L237.68 455.25 L240.25 452.7 L242.9 450.28 L245.64 447.99 L248.46 445.82 L251.35 443.79 L254.3 441.9 L257.31 440.15 L260.38 438.55 L263.5 437.1 L266.66 435.8 L269.86 434.65 L273.09 433.66 L276.35 432.83 L279.62 432.16 L282.91 431.65 L286.2 431.3 L289.5 431.11 L292.78 431.09 L296.06 431.23 L299.31 431.54 L302.55 432 L305.75 432.63 L308.91 433.42 L312.03 434.36 L315.1 435.47 L318.11 436.73 L321.07 438.14 L323.96 439.7 L326.77 441.41 L329.51 443.26 L332.17 445.25 L334.74 447.38 L337.22 449.64 L339.6 452.03 L341.87 454.54 L344.05 457.17 L346.11 459.91 L348.06 462.76 L349.89 465.72 L351.6 468.77 L353.18 471.92 L354.64 475.15 L355.97 478.45 L357.16 481.84 L358.22 485.28 L359.15 488.79 L359.93 492.36 L360.57 495.96 L361.08 499.61 L361.44 503.29 L361.65 507 L361.73 510.73 L361.77 678.47 L361.7 682.37 L361.49 686.27 L361.13 690.16 L360.63 694.04 L359.99 697.89 L359.2 701.72 L358.28 705.5 L357.23 709.25 L356.03 712.94 L354.71 716.58 L353.25 720.15 L351.67 723.64 L349.96 727.06 L348.13 730.4 L346.18 733.64 L344.12 736.78 L341.95 739.83 L339.67 742.76 L337.3 745.58 L334.82 748.27 L332.25 750.84 L329.6 753.29 L326.86 755.59 L324.04 757.76 L321.15 759.78 L318.2 761.66 L315.19 763.38 L312.12 764.95 L309 766.37 L305.84 767.62 L302.64 768.71 L299.41 769.64 L296.15 770.4 L292.88 770.99 L289.59 771.42 L286.3 771.67 L283 771.76 L279.72 771.67 L276.44 771.42 L273.18 770.99 L269.95 770.4 L266.75 769.64 L263.59 768.71 L260.47 767.62 L257.4 766.37 L254.39 764.96 L251.43 763.39 L248.54 761.66 L245.73 759.79 L242.99 757.76 L240.33 755.6 L237.76 753.29 L235.28 750.85 L232.9 748.28 L230.62 745.58 L228.45 742.76 L226.39 739.83 L224.44 736.79 L222.61 733.65 L220.9 730.4 L219.31 727.07 L217.86 723.65 L216.53 720.15 L215.33 716.58 L214.27 712.95 L213.35 709.26 L212.57 705.51 L211.92 701.72 L211.42 697.9 L211.06 694.04 L210.85 690.17 L210.77 686.28 Z" fill="#fff" stroke="#222" stroke-width="0.9" stroke-linejoin="round" stroke-linecap="round" /><polygon points="212.3,521.16 361.7,505.47 372.4,519.35 224.3,534.9" fill="#fff" stroke="#222" stroke-width="0.8" stroke-linejoin="round" /><polygon points="224.3,534.9 372.4,519.35 372.4,526.45 224.3,542" fill="#fff" stroke="#222" stroke-width="0.8" stroke-linejoin="round" /><polygon points="212.3,601.16 361.7,585.47 372.4,599.35 224.3,614.9" fill="#fff" stroke="#222" stroke-width="0.8" stroke-linejoin="round" /><polygon points="224.3,614.9 372.4,599.35 372.4,606.45 224.3,622" fill="#fff" stroke="#222" stroke-width="0.8" stroke-linejoin="round" /><polygon points="212.3,681.16 361.7,665.47 372.4,679.35 224.3,694.9" fill="#fff" stroke="#222" stroke-width="0.8" stroke-linejoin="round" /><polygon points="224.3,694.9 372.4,679.35 372.4,686.45 224.3,702" fill="#fff" stroke="#222" stroke-width="0.8" stroke-linejoin="round" /><ellipse cx="366.3" cy="516.4" rx="2.6" ry="1.1" fill="#444" stroke="#111" stroke-width="0.5"/></g><path d="M224.3 535.04 L224.37 531.35 L224.59 527.66 L224.95 523.97 L225.45 520.29 L226.09 516.63 L226.87 512.99 L227.79 509.38 L228.85 505.81 L230.05 502.28 L231.37 498.81 L232.83 495.39 L234.42 492.03 L236.12 488.75 L237.95 485.54 L239.9 482.41 L241.96 479.38 L244.14 476.43 L246.41 473.59 L248.79 470.85 L251.27 468.23 L253.84 465.72 L256.49 463.33 L259.23 461.06 L262.05 458.93 L264.94 456.93 L267.89 455.06 L270.91 453.34 L273.98 451.76 L277.1 450.32 L280.26 449.04 L283.46 447.91 L286.69 446.93 L289.95 446.11 L293.22 445.45 L296.51 444.94 L299.8 444.6 L303.09 444.42 L306.38 444.39 L309.65 444.53 L312.91 444.83 L316.14 445.29 L319.34 445.91 L322.5 446.69 L325.62 447.62 L328.69 448.71 L331.71 449.96 L334.66 451.35 L337.55 452.89 L340.37 454.57 L343.11 456.4 L345.76 458.36 L348.33 460.46 L350.81 462.69 L353.19 465.05 L355.46 467.53 L357.64 470.12 L359.7 472.83 L361.65 475.64 L363.48 478.56 L365.18 481.57 L366.77 484.67 L368.23 487.86 L369.55 491.12 L370.75 494.46 L371.81 497.86 L372.73 501.32 L373.51 504.84 L374.15 508.4 L374.65 512 L375.01 515.63 L375.23 519.28 L375.3 522.96 L375.3 688.45 L375.23 692.3 L375.01 696.14 L374.65 699.98 L374.15 703.81 L373.51 707.61 L372.73 711.38 L371.81 715.12 L370.75 718.81 L369.55 722.46 L368.23 726.04 L366.77 729.56 L365.18 733.02 L363.48 736.39 L361.65 739.68 L359.7 742.88 L357.64 745.98 L355.46 748.98 L353.19 751.87 L350.81 754.65 L348.33 757.31 L345.76 759.85 L343.11 762.26 L340.37 764.53 L337.55 766.67 L334.66 768.67 L331.71 770.52 L328.69 772.22 L325.62 773.77 L322.5 775.16 L319.34 776.4 L316.14 777.48 L312.91 778.39 L309.65 779.14 L306.38 779.73 L303.09 780.15 L299.8 780.4 L296.51 780.48 L293.22 780.4 L289.95 780.15 L286.69 779.73 L283.46 779.15 L280.26 778.39 L277.1 777.48 L273.98 776.4 L270.91 775.17 L267.89 773.77 L264.94 772.22 L262.05 770.52 L259.23 768.67 L256.49 766.68 L253.84 764.54 L251.27 762.26 L248.79 759.86 L246.41 757.32 L244.14 754.66 L241.96 751.88 L239.9 748.99 L237.95 745.99 L236.12 742.88 L234.42 739.68 L232.83 736.4 L231.37 733.02 L230.05 729.57 L228.85 726.05 L227.79 722.46 L226.87 718.82 L226.09 715.13 L225.45 711.39 L224.95 707.62 L224.59 703.81 L224.37 699.99 L224.3 696.15 Z" fill="none" stroke="#111" stroke-width="1.5" stroke-linejoin="round" stroke-linecap="round" /><rect x="215.7" y="533.5" width="7.8" height="24.9" fill="#fff" stroke="#222" stroke-width="0.8"/><circle cx="219.3" cy="538.1" r="0.9" fill="#111"/><circle cx="219.3" cy="553.5" r="0.9" fill="#111"/><rect x="215.7" y="608.8" width="7.8" height="24.9" fill="#fff" stroke="#222" stroke-width="0.8"/><circle cx="219.3" cy="613.4" r="0.9" fill="#111"/><circle cx="219.3" cy="628.8" r="0.9" fill="#111"/><rect x="215.7" y="684.6" width="7.8" height="24.9" fill="#fff" stroke="#222" stroke-width="0.8"/><circle cx="219.3" cy="689.2" r="0.9" fill="#111"/><circle cx="219.3" cy="704.6" r="0.9" fill="#111"/><circle cx="378.5" cy="604.9" r="1.9" fill="#111"/><rect x="239.2" y="449.2" width="59.9" height="51.4" rx="5" ry="5" fill="none" stroke="#555" stroke-width="0.8"/><circle cx="279.4" cy="483.7" r="2" fill="#111"/><rect x="248.7" y="687" width="59.9" height="51.2" rx="5" ry="5" fill="none" stroke="#555" stroke-width="0.8"/><circle cx="279.4" cy="713.7" r="2" fill="#111"/><line x1="299.9" y1="474.9" x2="622.1" y2="379.2" stroke="#222" stroke-width="0.9" /><line x1="308.6" y1="717.4" x2="622.1" y2="379.2" stroke="#222" stroke-width="0.9" /><circle cx="296.6" cy="566.2" r="12.4" fill="#111"/><text x="296.6" y="572.6" font-size="18" font-weight="bold" fill="#fff" text-anchor="middle" >2</text><line x1="135.5" y1="459" x2="135.5" y2="741" stroke="#222" stroke-width="0.9" /><polygon points="101.8,488.2 110.7,489.6 127.7,472.9 133.2,473.3 130.4,465.8 113.1,470.9 119.2,471.5" fill="#0a0a0a" stroke="#0a0a0a" stroke-width="0.4" stroke-linejoin="round" /><line x1="132.2" y1="462" x2="139.6" y2="454.6" stroke="#111" stroke-width="1.6" /><line x1="132.6" y1="453" x2="139.6" y2="464.8" stroke="#111" stroke-width="1.6" /><polygon points="101.8,771.5 110.7,772.9 127.7,756.2 133.2,756.6 130.4,749.1 113.1,754.2 119.2,754.8" fill="#0a0a0a" stroke="#0a0a0a" stroke-width="0.4" stroke-linejoin="round" /><line x1="132.2" y1="745.3" x2="139.6" y2="737.9" stroke="#111" stroke-width="1.6" /><line x1="132.6" y1="736.3" x2="139.6" y2="748.1" stroke="#111" stroke-width="1.6" /><text transform="translate(89.4 555.2) rotate(90)" font-size="34" font-weight="bold" fill="#151515">596 mm</text>
<rect x="622.1" y="296" width="171.2" height="146.8" rx="9" ry="9" fill="#fff" stroke="#666" stroke-width="1"/>
<g transform="translate(615 272) scale(0.23557)"><clipPath id="cps1"><rect x="30" y="102" width="727" height="623" rx="38"/></clipPath><g clip-path="url(#cps1)"><g transform="translate(0 0)"><path d="M52 98 L166 182 M62 98 L172 176 M84 98 L150 146 M30 244 L52 268 M30 256 L46 274" fill="none" stroke="#222" stroke-width="3.82" stroke-linejoin="round" stroke-linecap="round" /><path d="M30 300 C120 218 210 148 316 96" fill="none" stroke="#222" stroke-width="4.25" stroke-linejoin="round" stroke-linecap="round" /><path d="M30 314 C124 230 226 158 342 96" fill="none" stroke="#1a1a1a" stroke-width="5.94" stroke-linejoin="round" stroke-linecap="round" /><path d="M30 331 C130 243 240 167 376 99" fill="none" stroke="#111" stroke-width="8.49" stroke-linejoin="round" stroke-linecap="round" /><path d="M24 605 L33 580 C116.6 321.8 454.9 141 760 204.7" fill="none" stroke="#111" stroke-width="7.64" stroke-linejoin="round" stroke-linecap="round" /><circle cx="399.5" cy="458.5" r="18.5" fill="#b4b4b4" stroke="#222" stroke-width="3.82"/><circle cx="399.5" cy="458.5" r="9" fill="#0c0c0c"/><polygon points="426,482 440.64,511.46 573.97,620.76 575.93,640.46 610.79,597.93 591.09,599.88 457.76,490.58" fill="#fff" stroke="#1c1c1c" stroke-width="4.25" stroke-linejoin="round" /><line x1="443.7" y1="517.2" x2="457.02" y2="486.74" stroke="#1c1c1c" stroke-width="6.79" /><line x1="464.96" y1="534.63" x2="478.29" y2="504.18" stroke="#1c1c1c" stroke-width="6.79" /><line x1="486.23" y1="552.07" x2="499.56" y2="521.61" stroke="#1c1c1c" stroke-width="6.79" /><line x1="507.5" y1="569.5" x2="520.83" y2="539.05" stroke="#1c1c1c" stroke-width="6.79" /><line x1="528.77" y1="586.93" x2="542.09" y2="556.48" stroke="#1c1c1c" stroke-width="6.79" /><line x1="550.03" y1="604.37" x2="563.36" y2="573.91" stroke="#1c1c1c" stroke-width="6.79" /><ellipse cx="594.13" cy="619.83" rx="18" ry="50" transform="rotate(39.34 594.13 619.83)" fill="#fff" stroke="#1c1c1c" stroke-width="4.67"/><ellipse cx="601.09" cy="625.54" rx="18" ry="50" transform="rotate(39.34 601.09 625.54)" fill="#fff" stroke="#1c1c1c" stroke-width="5.52"/><line x1="588.69" y1="643.82" x2="616.59" y2="609.79" stroke="#1c1c1c" stroke-width="3.82" /><line x1="593.64" y1="630.8" x2="611.64" y2="622.8" stroke="#1c1c1c" stroke-width="3.82" /><rect x="551.5" y="455" width="160" height="85.7" rx="42.85" fill="#fff" stroke="#222" stroke-width="4.67"/><text x="577.51" y="526.13" font-size="74.71" font-weight="bold" fill="#1a1a1a">t</text><path d="M806 0H525V1059Q371 915 162 846V1101Q272 1137 401 1237.5Q530 1338 578 1472H806Z" fill="#1a1a1a" transform="translate(602.39 526.13) scale(0.03648 -0.03648)"/><text x="643.94" y="526.13" font-size="74.71" font-weight="bold" fill="#1a1a1a">7</text></g></g><path d="M249 487 L98 645 Q92 676 110 690 Q124 698 143 697 L294 521 Z" fill="#fff" stroke="#222" stroke-width="4.25" stroke-linejoin="round" stroke-linecap="round" /><line x1="249" y1="487" x2="98" y2="645" stroke="#111" stroke-width="7.64" /><path d="M197.4 422 L224.4 390.6 L244.7 381.6 L372.9 482.8 L408.9 557 L400 572.8 L377.4 568.3 L310 530 Z" fill="#fff" stroke="#1a1a1a" stroke-width="4.67" stroke-linejoin="round" stroke-linecap="round" /><path d="M224.4 390.6 L350.4 489.6 L395.4 563.8" fill="none" stroke="#1a1a1a" stroke-width="3.82" stroke-linejoin="round" stroke-linecap="round" /><ellipse cx="321" cy="455.5" rx="23" ry="6.5" transform="rotate(38 321 455.5)" fill="#111"/><ellipse cx="321" cy="455.5" rx="16" ry="3" transform="rotate(38 321 455.5)" fill="#555"/></g>
<circle cx="791.7" cy="296.3" r="18.8" fill="#fff" stroke="#666" stroke-width="1"/><path d="M806 0H525V1059Q371 915 162 846V1101Q272 1137 401 1237.5Q530 1338 578 1472H806Z" fill="#161616" transform="translate(782.94 307.5) scale(0.01538 -0.01538)"/>
<rect x="622.1" y="974.3" width="171.2" height="148.4" rx="9" ry="9" fill="#fff" stroke="#666" stroke-width="1"/>
<g transform="translate(615 272) scale(0.23557)"><clipPath id="cps5"><rect x="30" y="2981.38" width="727" height="623" rx="38"/></clipPath><g clip-path="url(#cps5)"><g transform="translate(0 2879.38)"><path d="M52 98 L166 182 M62 98 L172 176 M84 98 L150 146 M30 244 L52 268 M30 256 L46 274" fill="none" stroke="#222" stroke-width="3.82" stroke-linejoin="round" stroke-linecap="round" /><path d="M30 300 C120 218 210 148 316 96" fill="none" stroke="#222" stroke-width="4.25" stroke-linejoin="round" stroke-linecap="round" /><path d="M30 314 C124 230 226 158 342 96" fill="none" stroke="#1a1a1a" stroke-width="5.94" stroke-linejoin="round" stroke-linecap="round" /><path d="M30 331 C130 243 240 167 376 99" fill="none" stroke="#111" stroke-width="8.49" stroke-linejoin="round" stroke-linecap="round" /><path d="M24 605 L33 580 C116.6 321.8 454.9 141 760 204.7" fill="none" stroke="#111" stroke-width="7.64" stroke-linejoin="round" stroke-linecap="round" /><circle cx="399.5" cy="458.5" r="18.5" fill="#b4b4b4" stroke="#222" stroke-width="3.82"/><circle cx="399.5" cy="458.5" r="9" fill="#0c0c0c"/><polygon points="426,482 440.64,511.46 573.97,620.76 575.93,640.46 610.79,597.93 591.09,599.88 457.76,490.58" fill="#fff" stroke="#1c1c1c" stroke-width="4.25" stroke-linejoin="round" /><line x1="443.7" y1="517.2" x2="457.02" y2="486.74" stroke="#1c1c1c" stroke-width="6.79" /><line x1="464.96" y1="534.63" x2="478.29" y2="504.18" stroke="#1c1c1c" stroke-width="6.79" /><line x1="486.23" y1="552.07" x2="499.56" y2="521.61" stroke="#1c1c1c" stroke-width="6.79" /><line x1="507.5" y1="569.5" x2="520.83" y2="539.05" stroke="#1c1c1c" stroke-width="6.79" /><line x1="528.77" y1="586.93" x2="542.09" y2="556.48" stroke="#1c1c1c" stroke-width="6.79" /><line x1="550.03" y1="604.37" x2="563.36" y2="573.91" stroke="#1c1c1c" stroke-width="6.79" /><ellipse cx="594.13" cy="619.83" rx="18" ry="50" transform="rotate(39.34 594.13 619.83)" fill="#fff" stroke="#1c1c1c" stroke-width="4.67"/><ellipse cx="601.09" cy="625.54" rx="18" ry="50" transform="rotate(39.34 601.09 625.54)" fill="#fff" stroke="#1c1c1c" stroke-width="5.52"/><line x1="588.69" y1="643.82" x2="616.59" y2="609.79" stroke="#1c1c1c" stroke-width="3.82" /><line x1="593.64" y1="630.8" x2="611.64" y2="622.8" stroke="#1c1c1c" stroke-width="3.82" /><rect x="551.5" y="455" width="160" height="85.7" rx="42.85" fill="#fff" stroke="#222" stroke-width="4.67"/><text x="577.51" y="526.13" font-size="74.71" font-weight="bold" fill="#1a1a1a">t</text><path d="M806 0H525V1059Q371 915 162 846V1101Q272 1137 401 1237.5Q530 1338 578 1472H806Z" fill="#1a1a1a" transform="translate(602.39 526.13) scale(0.03648 -0.03648)"/><text x="643.94" y="526.13" font-size="74.71" font-weight="bold" fill="#1a1a1a">7</text></g></g><g transform="translate(0 2899.34)"><path d="M322 570 C314 612 338 654 392 692 C420 710 454 704 458 680 C458 640 430 590 356 554 Z" fill="#fff" stroke="#222" stroke-width="4.25" stroke-linejoin="round" stroke-linecap="round" /><path d="M338 596 C366 636 400 672 438 698 M362 574 C396 606 430 646 454 682 M350 584 C382 620 416 660 448 692 M334 620 C352 650 380 680 410 700" fill="none" stroke="#333" stroke-width="3.4" stroke-linejoin="round" stroke-linecap="round" /><polygon points="179,405 313,533 295,551 165,419" fill="#fff" stroke="#222" stroke-width="3.82" stroke-linejoin="round" /><ellipse cx="311" cy="548" rx="29" ry="19" transform="rotate(-42 311 548)" fill="#fff" stroke="#222" stroke-width="3.82"/><ellipse cx="317" cy="554" rx="27" ry="17" transform="rotate(-42 317 554)" fill="#fff" stroke="#333" stroke-width="3.4"/><path d="M300 536 L318 556" fill="none" stroke="#fff" stroke-width="15.28" stroke-linejoin="round" stroke-linecap="round" /><path d="M313 533 L324 544 M295 551 L306 562" fill="none" stroke="#222" stroke-width="3.82" stroke-linejoin="round" stroke-linecap="round" /><circle cx="172" cy="410" r="11" fill="#777" stroke="#222" stroke-width="3.4"/></g></g>
<circle cx="791.7" cy="975" r="18.8" fill="#fff" stroke="#666" stroke-width="1"/><text x="782.94" y="986.2" font-size="31.5" font-weight="bold" fill="#363636">5</text>
<rect x="622.1" y="466.7" width="171.2" height="147.4" rx="9" ry="9" fill="#fff" stroke="#666" stroke-width="1"/>
<line x1="669.7" y1="469.7" x2="669.7" y2="611" stroke="#444" stroke-width="1" />
<rect x="675.5" y="470.4" width="27.4" height="139" fill="#fff" stroke="#555" stroke-width="0.8"/><rect x="675.5" y="470.4" width="2.8" height="139" fill="#9d9d9d"/><rect x="698.5" y="470.4" width="4.4" height="139" fill="#9d9d9d"/><rect x="678.3" y="470.4" width="20.2" height="2.6" fill="#8a8a8a"/><rect x="678.3" y="606.8" width="20.2" height="2.6" fill="#8a8a8a"/><line x1="678.3" y1="473.8" x2="698.5" y2="473.8" stroke="#2e2e2e" stroke-width="1.5" /><line x1="678.3" y1="477.79" x2="698.5" y2="477.79" stroke="#2e2e2e" stroke-width="1.5" /><line x1="678.3" y1="481.78" x2="698.5" y2="481.78" stroke="#2e2e2e" stroke-width="1.5" /><line x1="678.3" y1="485.76" x2="698.5" y2="485.76" stroke="#2e2e2e" stroke-width="1.5" /><line x1="678.3" y1="489.75" x2="698.5" y2="489.75" stroke="#2e2e2e" stroke-width="1.5" /><line x1="678.3" y1="493.74" x2="698.5" y2="493.74" stroke="#2e2e2e" stroke-width="1.5" /><line x1="678.3" y1="497.73" x2="698.5" y2="497.73" stroke="#2e2e2e" stroke-width="1.5" /><line x1="678.3" y1="501.72" x2="698.5" y2="501.72" stroke="#2e2e2e" stroke-width="1.5" /><line x1="678.3" y1="505.7" x2="698.5" y2="505.7" stroke="#2e2e2e" stroke-width="1.5" /><line x1="678.3" y1="509.69" x2="698.5" y2="509.69" stroke="#2e2e2e" stroke-width="1.5" /><line x1="678.3" y1="513.68" x2="698.5" y2="513.68" stroke="#2e2e2e" stroke-width="1.5" /><line x1="678.3" y1="517.67" x2="698.5" y2="517.67" stroke="#2e2e2e" stroke-width="1.5" /><line x1="678.3" y1="521.65" x2="698.5" y2="521.65" stroke="#2e2e2e" stroke-width="1.5" /><line x1="678.3" y1="525.64" x2="698.5" y2="525.64" stroke="#2e2e2e" stroke-width="1.5" /><line x1="678.3" y1="529.63" x2="698.5" y2="529.63" stroke="#2e2e2e" stroke-width="1.5" /><line x1="678.3" y1="533.62" x2="698.5" y2="533.62" stroke="#2e2e2e" stroke-width="1.5" /><line x1="678.3" y1="537.61" x2="698.5" y2="537.61" stroke="#2e2e2e" stroke-width="1.5" /><line x1="678.3" y1="541.59" x2="698.5" y2="541.59" stroke="#2e2e2e" stroke-width="1.5" /><line x1="678.3" y1="545.58" x2="698.5" y2="545.58" stroke="#2e2e2e" stroke-width="1.5" /><line x1="678.3" y1="549.57" x2="698.5" y2="549.57" stroke="#2e2e2e" stroke-width="1.5" /><line x1="678.3" y1="553.56" x2="698.5" y2="553.56" stroke="#2e2e2e" stroke-width="1.5" /><line x1="678.3" y1="557.55" x2="698.5" y2="557.55" stroke="#2e2e2e" stroke-width="1.5" /><line x1="678.3" y1="561.53" x2="698.5" y2="561.53" stroke="#2e2e2e" stroke-width="1.5" /><line x1="678.3" y1="565.52" x2="698.5" y2="565.52" stroke="#2e2e2e" stroke-width="1.5" /><line x1="678.3" y1="569.51" x2="698.5" y2="569.51" stroke="#2e2e2e" stroke-width="1.5" /><line x1="678.3" y1="573.5" x2="698.5" y2="573.5" stroke="#2e2e2e" stroke-width="1.5" /><line x1="678.3" y1="577.48" x2="698.5" y2="577.48" stroke="#2e2e2e" stroke-width="1.5" /><line x1="678.3" y1="581.47" x2="698.5" y2="581.47" stroke="#2e2e2e" stroke-width="1.5" /><line x1="678.3" y1="585.46" x2="698.5" y2="585.46" stroke="#2e2e2e" stroke-width="1.5" /><line x1="678.3" y1="589.45" x2="698.5" y2="589.45" stroke="#2e2e2e" stroke-width="1.5" /><line x1="678.3" y1="593.44" x2="698.5" y2="593.44" stroke="#2e2e2e" stroke-width="1.5" /><line x1="678.3" y1="597.42" x2="698.5" y2="597.42" stroke="#2e2e2e" stroke-width="1.5" /><line x1="678.3" y1="601.41" x2="698.5" y2="601.41" stroke="#2e2e2e" stroke-width="1.5" /><line x1="678.3" y1="605.4" x2="698.5" y2="605.4" stroke="#2e2e2e" stroke-width="1.5" /><line x1="700.1" y1="470.4" x2="700.1" y2="609.4" stroke="#555" stroke-width="0.7" />
<line x1="712.8" y1="479.2" x2="725.9" y2="479.2" stroke="#111" stroke-width="2.6" /><polygon points="737.5,479.2 723.9,471.9 723.9,486.5" fill="#111" stroke="#111" stroke-width="0.4" stroke-linejoin="round" />
<line x1="712.8" y1="601.7" x2="725.9" y2="601.7" stroke="#111" stroke-width="2.6" /><polygon points="737.5,601.7 723.9,594.4 723.9,609" fill="#111" stroke="#111" stroke-width="0.4" stroke-linejoin="round" />
<circle cx="791.7" cy="466.2" r="18.8" fill="#fff" stroke="#666" stroke-width="1"/><text x="782.94" y="477.4" font-size="31.5" font-weight="bold" fill="#161616">2</text>
<rect x="622.1" y="805.7" width="171.2" height="147.7" rx="9" ry="9" fill="#fff" stroke="#666" stroke-width="1"/>
<line x1="669.7" y1="809.7" x2="669.7" y2="951" stroke="#444" stroke-width="1" />
<rect x="710.4" y="809.7" width="27.6" height="139" fill="#fff" stroke="#555" stroke-width="0.8"/><rect x="710.4" y="809.7" width="2.2" height="139" fill="#9d9d9d"/><rect x="733.6" y="809.7" width="4.4" height="139" fill="#9d9d9d"/><rect x="712.6" y="809.7" width="21" height="2.6" fill="#8a8a8a"/><rect x="712.6" y="946.1" width="21" height="2.6" fill="#8a8a8a"/><line x1="712.6" y1="813.1" x2="733.6" y2="813.1" stroke="#2e2e2e" stroke-width="1.5" /><line x1="712.6" y1="817.09" x2="733.6" y2="817.09" stroke="#2e2e2e" stroke-width="1.5" /><line x1="712.6" y1="821.08" x2="733.6" y2="821.08" stroke="#2e2e2e" stroke-width="1.5" /><line x1="712.6" y1="825.06" x2="733.6" y2="825.06" stroke="#2e2e2e" stroke-width="1.5" /><line x1="712.6" y1="829.05" x2="733.6" y2="829.05" stroke="#2e2e2e" stroke-width="1.5" /><line x1="712.6" y1="833.04" x2="733.6" y2="833.04" stroke="#2e2e2e" stroke-width="1.5" /><line x1="712.6" y1="837.03" x2="733.6" y2="837.03" stroke="#2e2e2e" stroke-width="1.5" /><line x1="712.6" y1="841.02" x2="733.6" y2="841.02" stroke="#2e2e2e" stroke-width="1.5" /><line x1="712.6" y1="845" x2="733.6" y2="845" stroke="#2e2e2e" stroke-width="1.5" /><line x1="712.6" y1="848.99" x2="733.6" y2="848.99" stroke="#2e2e2e" stroke-width="1.5" /><line x1="712.6" y1="852.98" x2="733.6" y2="852.98" stroke="#2e2e2e" stroke-width="1.5" /><line x1="712.6" y1="856.97" x2="733.6" y2="856.97" stroke="#2e2e2e" stroke-width="1.5" /><line x1="712.6" y1="860.95" x2="733.6" y2="860.95" stroke="#2e2e2e" stroke-width="1.5" /><line x1="712.6" y1="864.94" x2="733.6" y2="864.94" stroke="#2e2e2e" stroke-width="1.5" /><line x1="712.6" y1="868.93" x2="733.6" y2="868.93" stroke="#2e2e2e" stroke-width="1.5" /><line x1="712.6" y1="872.92" x2="733.6" y2="872.92" stroke="#2e2e2e" stroke-width="1.5" /><line x1="712.6" y1="876.91" x2="733.6" y2="876.91" stroke="#2e2e2e" stroke-width="1.5" /><line x1="712.6" y1="880.89" x2="733.6" y2="880.89" stroke="#2e2e2e" stroke-width="1.5" /><line x1="712.6" y1="884.88" x2="733.6" y2="884.88" stroke="#2e2e2e" stroke-width="1.5" /><line x1="712.6" y1="888.87" x2="733.6" y2="888.87" stroke="#2e2e2e" stroke-width="1.5" /><line x1="712.6" y1="892.86" x2="733.6" y2="892.86" stroke="#2e2e2e" stroke-width="1.5" /><line x1="712.6" y1="896.85" x2="733.6" y2="896.85" stroke="#2e2e2e" stroke-width="1.5" /><line x1="712.6" y1="900.83" x2="733.6" y2="900.83" stroke="#2e2e2e" stroke-width="1.5" /><line x1="712.6" y1="904.82" x2="733.6" y2="904.82" stroke="#2e2e2e" stroke-width="1.5" /><line x1="712.6" y1="908.81" x2="733.6" y2="908.81" stroke="#2e2e2e" stroke-width="1.5" /><line x1="712.6" y1="912.8" x2="733.6" y2="912.8" stroke="#2e2e2e" stroke-width="1.5" /><line x1="712.6" y1="916.78" x2="733.6" y2="916.78" stroke="#2e2e2e" stroke-width="1.5" /><line x1="712.6" y1="920.77" x2="733.6" y2="920.77" stroke="#2e2e2e" stroke-width="1.5" /><line x1="712.6" y1="924.76" x2="733.6" y2="924.76" stroke="#2e2e2e" stroke-width="1.5" /><line x1="712.6" y1="928.75" x2="733.6" y2="928.75" stroke="#2e2e2e" stroke-width="1.5" /><line x1="712.6" y1="932.74" x2="733.6" y2="932.74" stroke="#2e2e2e" stroke-width="1.5" /><line x1="712.6" y1="936.72" x2="733.6" y2="936.72" stroke="#2e2e2e" stroke-width="1.5" /><line x1="712.6" y1="940.71" x2="733.6" y2="940.71" stroke="#2e2e2e" stroke-width="1.5" /><line x1="712.6" y1="944.7" x2="733.6" y2="944.7" stroke="#2e2e2e" stroke-width="1.5" /><line x1="735.2" y1="809.7" x2="735.2" y2="948.7" stroke="#555" stroke-width="0.7" />
<line x1="698.6" y1="818" x2="685" y2="818" stroke="#111" stroke-width="2.6" /><polygon points="673.4,818 687,810.7 687,825.3" fill="#111" stroke="#111" stroke-width="0.4" stroke-linejoin="round" />
<line x1="698.6" y1="941" x2="685" y2="941" stroke="#111" stroke-width="2.6" /><polygon points="673.4,941 687,933.7 687,948.3" fill="#111" stroke="#111" stroke-width="0.4" stroke-linejoin="round" />
<circle cx="791.7" cy="805.7" r="18.8" fill="#fff" stroke="#666" stroke-width="1"/><text x="782.94" y="816.9" font-size="31.5" font-weight="bold" fill="#363636">4</text>
<rect x="622.2" y="635.7" width="171.6" height="147" rx="9" ry="9" fill="#fff" stroke="#666" stroke-width="1"/>
<circle cx="791.9" cy="635" r="18.8" fill="#fff" stroke="#666" stroke-width="1"/><text x="783.14" y="646.2" font-size="31.5" font-weight="bold" fill="#1e1e1e">3</text>
<polygon points="685.3,675.1 698.7,662.4 698.7,668.5 710.7,668.5 710.7,681.7 698.7,681.7 698.7,687.8" fill="#828282" stroke="#6e6e6e" stroke-width="0.5" stroke-linejoin="round" /><rect x="712.2" y="668.5" width="10.6" height="13.2" fill="#828282" stroke="#6e6e6e" stroke-width="0.4"/><rect x="724.2" y="668.5" width="5.6" height="13.2" fill="#828282" stroke="#6e6e6e" stroke-width="0.4"/><rect x="731" y="668.5" width="2.9" height="13.2" fill="#828282" stroke="#6e6e6e" stroke-width="0.4"/>
<g transform="translate(640 615) scale(0.23557)"><circle cx="56" cy="378" r="15" fill="none" stroke="#222" stroke-width="3.82"/><path d="M56 345 L56 414 M26 378 L92 378" fill="none" stroke="#222" stroke-width="3.82" stroke-linejoin="round" stroke-linecap="round" /><path d="M44 366 L56 378 L44 390 Z" fill="#222" stroke="#222" stroke-width="1.27" stroke-linejoin="round" stroke-linecap="round" /><line x1="92" y1="376" x2="205" y2="376" stroke="#111" stroke-width="9.34" /><path d="M318 340 L352 326 L505 326 Q528 328 530 350 L530 420 L520 436 L352 444 L330 420 L316 402 Z" fill="#fff" stroke="#222" stroke-width="4.25" stroke-linejoin="round" stroke-linecap="round" /><path d="M352 326 L340 348 L344 420 L352 444 M340 348 L318 344 M385 330 L380 352 L400 356 L404 330 M380 352 L344 350 M400 356 L530 356" fill="none" stroke="#222" stroke-width="3.4" stroke-linejoin="round" stroke-linecap="round" /><path d="M350 372 L392 368 L392 418 L352 420 Z" fill="#fff" stroke="#222" stroke-width="3.82" stroke-linejoin="round" stroke-linecap="round" /><path d="M400 360 L410 360 L410 440 L400 440 Z" fill="#fff" stroke="#222" stroke-width="2.97" stroke-linejoin="round" stroke-linecap="round" /><path d="M436 366 L524 362 L524 388 L436 392 Q428 380 436 366 Z" fill="#151515" stroke="#151515" stroke-width="2.12" stroke-linejoin="round" stroke-linecap="round" /><path d="M410 328 L500 328 L520 334 L420 336 Z" fill="#333" stroke="#222" stroke-width="2.12" stroke-linejoin="round" stroke-linecap="round" /><path d="M200 366 L226 342 L300 340 L330 348 L330 400 L300 408 L226 404 L200 388 Z" fill="#151515" stroke="#151515" stroke-width="2.55" stroke-linejoin="round" stroke-linecap="round" /><line x1="238" y1="346" x2="238" y2="402" stroke="#777" stroke-width="2.12" /><line x1="254" y1="346" x2="254" y2="402" stroke="#777" stroke-width="2.12" /><line x1="270" y1="346" x2="270" y2="402" stroke="#777" stroke-width="2.12" /><line x1="290" y1="341" x2="290" y2="407" stroke="#ddd" stroke-width="3.82" /><path d="M458 440 L520 436 L522 520 L500 534 L480 534 L468 500 Z" fill="#fff" stroke="#222" stroke-width="4.25" stroke-linejoin="round" stroke-linecap="round" /><path d="M452 444 L472 444 L476 476 L458 476 Z" fill="#fff" stroke="#222" stroke-width="3.4" stroke-linejoin="round" stroke-linecap="round" /><circle cx="503" cy="468" r="6" fill="#fff" stroke="#222" stroke-width="3.82"/><path d="M484 534 L488 596 L506 598 L504 534 Z" fill="#fff" stroke="#222" stroke-width="3.82" stroke-linejoin="round" stroke-linecap="round" /><line x1="496" y1="540" x2="497" y2="594" stroke="#444" stroke-width="2.55" /></g>
<text x="659.4" y="728.2" font-size="18.2" font-weight="normal" fill="#222" text-anchor="start" >Ø8</text>
<rect x="505.6" y="652.7" width="131.4" height="112.6" rx="6" ry="6" fill="#fff" stroke="#222" stroke-width="1.1"/>
<polygon points="530.2,673.8 540.1,664.3 540.1,669 550.5,669 550.5,678.6 540.1,678.6 540.1,683.3" fill="#828282" stroke="#6e6e6e" stroke-width="0.5" stroke-linejoin="round" /><rect x="551" y="669" width="7.2" height="9.6" fill="#828282" stroke="#6e6e6e" stroke-width="0.4"/><rect x="558.8" y="669" width="4" height="9.6" fill="#828282" stroke="#6e6e6e" stroke-width="0.4"/><rect x="563.4" y="669" width="1.8" height="9.6" fill="#828282" stroke="#6e6e6e" stroke-width="0.4"/><rect x="565.7" y="669" width="1.1" height="9.6" fill="#828282" stroke="#6e6e6e" stroke-width="0.4"/>
<g transform="translate(495 615) scale(0.23557)"><ellipse cx="72" cy="323" rx="17" ry="26" fill="#f4f4f4" stroke="#9a9a9a" stroke-width="3.4"/><ellipse cx="65.5" cy="321.5" rx="11" ry="21.5" fill="#0a0a0a"/><path d="M120 307 L250 303 L250 343 L120 342 Q104 325 120 307 Z" fill="#fff" stroke="#8c8c8c" stroke-width="3.82" stroke-linejoin="round" stroke-linecap="round" /><path d="M132 319.5 L190 314" fill="none" stroke="#222" stroke-width="5.52" stroke-linejoin="round" stroke-linecap="round" /><path d="M150 314 L222 309" fill="none" stroke="#999" stroke-width="2.97" stroke-linejoin="round" stroke-linecap="round" /><path d="M148 336 l7 9" fill="none" stroke="#222" stroke-width="5.09" stroke-linejoin="round" stroke-linecap="round" /><path d="M159.5 336 l7 9" fill="none" stroke="#222" stroke-width="5.09" stroke-linejoin="round" stroke-linecap="round" /><path d="M171 336 l7 9" fill="none" stroke="#222" stroke-width="5.09" stroke-linejoin="round" stroke-linecap="round" /><path d="M182.5 336 l7 9" fill="none" stroke="#222" stroke-width="5.09" stroke-linejoin="round" stroke-linecap="round" /><path d="M194 336 l7 9" fill="none" stroke="#222" stroke-width="5.09" stroke-linejoin="round" stroke-linecap="round" /><path d="M205.5 336 l7 9" fill="none" stroke="#222" stroke-width="5.09" stroke-linejoin="round" stroke-linecap="round" /><path d="M217 336 l7 9" fill="none" stroke="#222" stroke-width="5.09" stroke-linejoin="round" stroke-linecap="round" /><path d="M228.5 336 l7 9" fill="none" stroke="#222" stroke-width="5.09" stroke-linejoin="round" stroke-linecap="round" /><path d="M196 312 L228 300 L244 297 L240 304 M214 338 L226 350 M228 336 L238 349" fill="none" stroke="#222" stroke-width="4.67" stroke-linejoin="round" stroke-linecap="round" /><circle cx="271.5" cy="323" r="24" fill="#fff" stroke="#222" stroke-width="5.52"/><circle cx="273" cy="323" r="11" fill="#fff" stroke="#888" stroke-width="3.82"/><line x1="196" y1="342" x2="240" y2="484" stroke="#333" stroke-width="2.97" /><rect x="133" y="485" width="162" height="83" rx="41.5" fill="#fff" stroke="#222" stroke-width="4.67"/><text x="156.94" y="553.89" font-size="78.96" font-weight="bold" fill="#1a1a1a">t</text><path d="M806 0H525V1059Q371 915 162 846V1101Q272 1137 401 1237.5Q530 1338 578 1472H806Z" fill="#1a1a1a" transform="translate(183.23 553.89) scale(0.03855 -0.03855)"/><text x="227.15" y="553.89" font-size="78.96" font-weight="bold" fill="#1a1a1a">7</text><path d="M418 346 L478 346 L480 572 Q478 588 446 588 Q408 588 404 574 Z" fill="#fff" stroke="#222" stroke-width="4.25" stroke-linejoin="round" stroke-linecap="round" /><path d="M330 292 L346 274 L528 274 L586 306 L586 320 L528 348 L346 348 L330 334 Z" fill="#fff" stroke="#222" stroke-width="4.67" stroke-linejoin="round" stroke-linecap="round" /><path d="M334 296 L348 286 L524 286 L584 312 M348 286 L346 274 M524 286 L528 274" fill="none" stroke="#333" stroke-width="3.4" stroke-linejoin="round" stroke-linecap="round" /><ellipse cx="450" cy="284" rx="26" ry="6" fill="#111"/></g>
</svg>
</body></html>
